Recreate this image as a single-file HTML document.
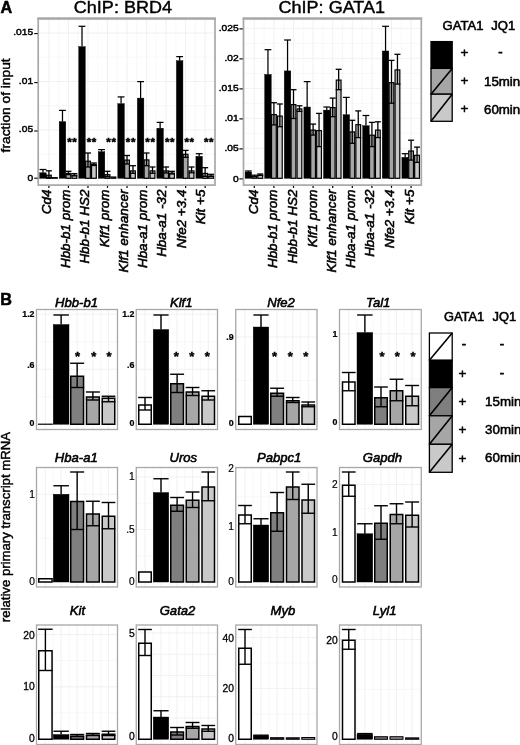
<!DOCTYPE html>
<html><head><meta charset="utf-8"><title>Figure</title>
<style>
html,body{margin:0;padding:0;background:#fff;}
body{width:520px;height:745px;overflow:hidden;font-family:'Liberation Sans', sans-serif;}
svg{display:block;font-family:"Liberation Sans",sans-serif;}
svg text{fill:#000;}
</style></head>
<body>
<svg width="520" height="745" viewBox="0 0 520 745">
<defs><filter id="soft" x="0" y="0" width="100%" height="100%" filterUnits="userSpaceOnUse" color-interpolation-filters="sRGB"><feGaussianBlur stdDeviation="0.38"/></filter></defs>
<rect x="0" y="0" width="520" height="745" fill="#ffffff"/>
<g filter="url(#soft)">
<rect x="-5" y="-5" width="530" height="755" fill="#ffffff"/>
<rect x="38.20" y="18.40" width="176.80" height="166.70" fill="#fff" stroke="none" stroke-width="1.0"/>
<line x1="58.67" y1="18.40" x2="58.67" y2="185.10" stroke="#f4f4f4" stroke-width="0.6"/>
<line x1="78.20" y1="18.40" x2="78.20" y2="185.10" stroke="#f4f4f4" stroke-width="0.6"/>
<line x1="97.73" y1="18.40" x2="97.73" y2="185.10" stroke="#f4f4f4" stroke-width="0.6"/>
<line x1="117.26" y1="18.40" x2="117.26" y2="185.10" stroke="#f4f4f4" stroke-width="0.6"/>
<line x1="136.79" y1="18.40" x2="136.79" y2="185.10" stroke="#f4f4f4" stroke-width="0.6"/>
<line x1="156.31" y1="18.40" x2="156.31" y2="185.10" stroke="#f4f4f4" stroke-width="0.6"/>
<line x1="175.85" y1="18.40" x2="175.85" y2="185.10" stroke="#f4f4f4" stroke-width="0.6"/>
<line x1="195.38" y1="18.40" x2="195.38" y2="185.10" stroke="#f4f4f4" stroke-width="0.6"/>
<line x1="38.20" y1="57.30" x2="215.00" y2="57.30" stroke="#f4f4f4" stroke-width="0.6"/>
<line x1="38.20" y1="105.70" x2="215.00" y2="105.70" stroke="#f4f4f4" stroke-width="0.6"/>
<line x1="38.20" y1="154.20" x2="215.00" y2="154.20" stroke="#f4f4f4" stroke-width="0.6"/>
<line x1="48.90" y1="18.40" x2="48.90" y2="185.10" stroke="#ededed" stroke-width="0.8"/>
<line x1="68.43" y1="18.40" x2="68.43" y2="185.10" stroke="#ededed" stroke-width="0.8"/>
<line x1="87.96" y1="18.40" x2="87.96" y2="185.10" stroke="#ededed" stroke-width="0.8"/>
<line x1="107.49" y1="18.40" x2="107.49" y2="185.10" stroke="#ededed" stroke-width="0.8"/>
<line x1="127.02" y1="18.40" x2="127.02" y2="185.10" stroke="#ededed" stroke-width="0.8"/>
<line x1="146.55" y1="18.40" x2="146.55" y2="185.10" stroke="#ededed" stroke-width="0.8"/>
<line x1="166.08" y1="18.40" x2="166.08" y2="185.10" stroke="#ededed" stroke-width="0.8"/>
<line x1="185.61" y1="18.40" x2="185.61" y2="185.10" stroke="#ededed" stroke-width="0.8"/>
<line x1="205.14" y1="18.40" x2="205.14" y2="185.10" stroke="#ededed" stroke-width="0.8"/>
<line x1="38.20" y1="33.10" x2="215.00" y2="33.10" stroke="#ededed" stroke-width="0.8"/>
<line x1="38.20" y1="81.50" x2="215.00" y2="81.50" stroke="#ededed" stroke-width="0.8"/>
<line x1="38.20" y1="130.00" x2="215.00" y2="130.00" stroke="#ededed" stroke-width="0.8"/>
<line x1="38.20" y1="178.40" x2="215.00" y2="178.40" stroke="#ededed" stroke-width="0.8"/>
<rect x="39.67" y="172.80" width="6.55" height="5.50" fill="#000" stroke="#000" stroke-width="0.4"/>
<line x1="42.95" y1="169.50" x2="42.95" y2="172.80" stroke="#000" stroke-width="1.25"/>
<line x1="39.55" y1="169.50" x2="46.35" y2="169.50" stroke="#000" stroke-width="1.25"/>
<rect x="46.52" y="175.20" width="4.75" height="3.10" fill="#a6a6a6" stroke="#000" stroke-width="1.2"/>
<line x1="48.90" y1="170.80" x2="48.90" y2="177.50" stroke="#000" stroke-width="1.3"/>
<line x1="45.90" y1="170.80" x2="51.90" y2="170.80" stroke="#000" stroke-width="1.3"/>
<line x1="45.90" y1="177.50" x2="51.90" y2="177.50" stroke="#000" stroke-width="1.3"/>
<rect x="51.87" y="177.00" width="5.95" height="1.90" fill="#111" stroke="none" stroke-width="1.0"/>
<rect x="59.21" y="121.60" width="6.55" height="56.70" fill="#000" stroke="#000" stroke-width="0.4"/>
<line x1="62.48" y1="110.40" x2="62.48" y2="121.60" stroke="#000" stroke-width="1.25"/>
<line x1="59.08" y1="110.40" x2="65.88" y2="110.40" stroke="#000" stroke-width="1.25"/>
<rect x="66.06" y="173.40" width="4.75" height="4.90" fill="#a6a6a6" stroke="#000" stroke-width="1.2"/>
<line x1="68.43" y1="171.30" x2="68.43" y2="174.60" stroke="#000" stroke-width="1.3"/>
<line x1="65.43" y1="171.30" x2="71.43" y2="171.30" stroke="#000" stroke-width="1.3"/>
<line x1="65.43" y1="174.60" x2="71.43" y2="174.60" stroke="#000" stroke-width="1.3"/>
<rect x="72.01" y="175.20" width="4.75" height="3.10" fill="#c9c9c9" stroke="#000" stroke-width="1.2"/>
<line x1="74.38" y1="173.60" x2="74.38" y2="175.90" stroke="#000" stroke-width="1.3"/>
<line x1="71.38" y1="173.60" x2="77.38" y2="173.60" stroke="#000" stroke-width="1.3"/>
<line x1="71.38" y1="175.90" x2="77.38" y2="175.90" stroke="#000" stroke-width="1.3"/>
<rect x="78.74" y="46.60" width="6.55" height="131.70" fill="#000" stroke="#000" stroke-width="0.4"/>
<line x1="82.01" y1="26.30" x2="82.01" y2="46.60" stroke="#000" stroke-width="1.25"/>
<line x1="78.61" y1="26.30" x2="85.41" y2="26.30" stroke="#000" stroke-width="1.25"/>
<rect x="85.59" y="161.20" width="4.75" height="17.10" fill="#a6a6a6" stroke="#000" stroke-width="1.2"/>
<line x1="87.96" y1="153.00" x2="87.96" y2="167.00" stroke="#000" stroke-width="1.3"/>
<line x1="84.96" y1="153.00" x2="90.96" y2="153.00" stroke="#000" stroke-width="1.3"/>
<line x1="84.96" y1="167.00" x2="90.96" y2="167.00" stroke="#000" stroke-width="1.3"/>
<rect x="91.54" y="164.50" width="4.75" height="13.80" fill="#c9c9c9" stroke="#000" stroke-width="1.2"/>
<line x1="93.91" y1="163.00" x2="93.91" y2="165.50" stroke="#000" stroke-width="1.3"/>
<line x1="90.91" y1="163.00" x2="96.91" y2="163.00" stroke="#000" stroke-width="1.3"/>
<line x1="90.91" y1="165.50" x2="96.91" y2="165.50" stroke="#000" stroke-width="1.3"/>
<rect x="98.27" y="151.70" width="6.55" height="26.60" fill="#000" stroke="#000" stroke-width="0.4"/>
<line x1="101.54" y1="149.60" x2="101.54" y2="151.70" stroke="#000" stroke-width="1.25"/>
<line x1="98.14" y1="149.60" x2="104.94" y2="149.60" stroke="#000" stroke-width="1.25"/>
<rect x="105.12" y="174.70" width="4.75" height="3.60" fill="#a6a6a6" stroke="#000" stroke-width="1.2"/>
<line x1="107.49" y1="171.30" x2="107.49" y2="176.70" stroke="#000" stroke-width="1.3"/>
<line x1="104.49" y1="171.30" x2="110.49" y2="171.30" stroke="#000" stroke-width="1.3"/>
<line x1="104.49" y1="176.70" x2="110.49" y2="176.70" stroke="#000" stroke-width="1.3"/>
<rect x="110.47" y="176.40" width="5.95" height="2.50" fill="#111" stroke="none" stroke-width="1.0"/>
<rect x="117.80" y="103.60" width="6.55" height="74.70" fill="#000" stroke="#000" stroke-width="0.4"/>
<line x1="121.07" y1="96.90" x2="121.07" y2="103.60" stroke="#000" stroke-width="1.25"/>
<line x1="117.67" y1="96.90" x2="124.47" y2="96.90" stroke="#000" stroke-width="1.25"/>
<rect x="124.65" y="160.10" width="4.75" height="18.20" fill="#a6a6a6" stroke="#000" stroke-width="1.2"/>
<line x1="127.02" y1="155.50" x2="127.02" y2="164.00" stroke="#000" stroke-width="1.3"/>
<line x1="124.02" y1="155.50" x2="130.02" y2="155.50" stroke="#000" stroke-width="1.3"/>
<line x1="124.02" y1="164.00" x2="130.02" y2="164.00" stroke="#000" stroke-width="1.3"/>
<rect x="130.59" y="170.90" width="4.75" height="7.40" fill="#c9c9c9" stroke="#000" stroke-width="1.2"/>
<line x1="132.97" y1="165.70" x2="132.97" y2="173.30" stroke="#000" stroke-width="1.3"/>
<line x1="129.97" y1="165.70" x2="135.97" y2="165.70" stroke="#000" stroke-width="1.3"/>
<line x1="129.97" y1="173.30" x2="135.97" y2="173.30" stroke="#000" stroke-width="1.3"/>
<rect x="137.32" y="98.10" width="6.55" height="80.20" fill="#000" stroke="#000" stroke-width="0.4"/>
<line x1="140.60" y1="81.60" x2="140.60" y2="98.10" stroke="#000" stroke-width="1.25"/>
<line x1="137.20" y1="81.60" x2="144.00" y2="81.60" stroke="#000" stroke-width="1.25"/>
<rect x="144.17" y="159.90" width="4.75" height="18.40" fill="#a6a6a6" stroke="#000" stroke-width="1.2"/>
<line x1="146.55" y1="153.00" x2="146.55" y2="165.70" stroke="#000" stroke-width="1.3"/>
<line x1="143.55" y1="153.00" x2="149.55" y2="153.00" stroke="#000" stroke-width="1.3"/>
<line x1="143.55" y1="165.70" x2="149.55" y2="165.70" stroke="#000" stroke-width="1.3"/>
<rect x="150.12" y="170.90" width="4.75" height="7.40" fill="#c9c9c9" stroke="#000" stroke-width="1.2"/>
<line x1="152.50" y1="167.00" x2="152.50" y2="173.30" stroke="#000" stroke-width="1.3"/>
<line x1="149.50" y1="167.00" x2="155.50" y2="167.00" stroke="#000" stroke-width="1.3"/>
<line x1="149.50" y1="173.30" x2="155.50" y2="173.30" stroke="#000" stroke-width="1.3"/>
<rect x="156.85" y="128.20" width="6.55" height="50.10" fill="#000" stroke="#000" stroke-width="0.4"/>
<line x1="160.13" y1="122.40" x2="160.13" y2="128.20" stroke="#000" stroke-width="1.25"/>
<line x1="156.73" y1="122.40" x2="163.53" y2="122.40" stroke="#000" stroke-width="1.25"/>
<rect x="163.70" y="170.90" width="4.75" height="7.40" fill="#a6a6a6" stroke="#000" stroke-width="1.2"/>
<line x1="166.08" y1="167.00" x2="166.08" y2="173.00" stroke="#000" stroke-width="1.3"/>
<line x1="163.08" y1="167.00" x2="169.08" y2="167.00" stroke="#000" stroke-width="1.3"/>
<line x1="163.08" y1="173.00" x2="169.08" y2="173.00" stroke="#000" stroke-width="1.3"/>
<rect x="169.66" y="173.10" width="4.75" height="5.20" fill="#c9c9c9" stroke="#000" stroke-width="1.2"/>
<line x1="172.03" y1="171.30" x2="172.03" y2="174.00" stroke="#000" stroke-width="1.3"/>
<line x1="169.03" y1="171.30" x2="175.03" y2="171.30" stroke="#000" stroke-width="1.3"/>
<line x1="169.03" y1="174.00" x2="175.03" y2="174.00" stroke="#000" stroke-width="1.3"/>
<rect x="176.38" y="60.70" width="6.55" height="117.60" fill="#000" stroke="#000" stroke-width="0.4"/>
<line x1="179.66" y1="56.60" x2="179.66" y2="60.70" stroke="#000" stroke-width="1.25"/>
<line x1="176.26" y1="56.60" x2="183.06" y2="56.60" stroke="#000" stroke-width="1.25"/>
<rect x="183.23" y="154.30" width="4.75" height="24.00" fill="#a6a6a6" stroke="#000" stroke-width="1.2"/>
<line x1="185.61" y1="150.40" x2="185.61" y2="157.30" stroke="#000" stroke-width="1.3"/>
<line x1="182.61" y1="150.40" x2="188.61" y2="150.40" stroke="#000" stroke-width="1.3"/>
<line x1="182.61" y1="157.30" x2="188.61" y2="157.30" stroke="#000" stroke-width="1.3"/>
<rect x="189.19" y="170.90" width="4.75" height="7.40" fill="#c9c9c9" stroke="#000" stroke-width="1.2"/>
<line x1="191.56" y1="167.00" x2="191.56" y2="172.80" stroke="#000" stroke-width="1.3"/>
<line x1="188.56" y1="167.00" x2="194.56" y2="167.00" stroke="#000" stroke-width="1.3"/>
<line x1="188.56" y1="172.80" x2="194.56" y2="172.80" stroke="#000" stroke-width="1.3"/>
<rect x="195.91" y="156.30" width="6.55" height="22.00" fill="#000" stroke="#000" stroke-width="0.4"/>
<line x1="199.19" y1="153.70" x2="199.19" y2="156.30" stroke="#000" stroke-width="1.25"/>
<line x1="195.79" y1="153.70" x2="202.59" y2="153.70" stroke="#000" stroke-width="1.25"/>
<rect x="202.76" y="173.40" width="4.75" height="4.90" fill="#a6a6a6" stroke="#000" stroke-width="1.2"/>
<line x1="205.14" y1="167.70" x2="205.14" y2="176.40" stroke="#000" stroke-width="1.3"/>
<line x1="202.14" y1="167.70" x2="208.14" y2="167.70" stroke="#000" stroke-width="1.3"/>
<line x1="202.14" y1="176.40" x2="208.14" y2="176.40" stroke="#000" stroke-width="1.3"/>
<rect x="208.67" y="175.95" width="4.85" height="2.35" fill="#c9c9c9" stroke="#000" stroke-width="1.1"/>
<line x1="211.09" y1="174.30" x2="211.09" y2="176.60" stroke="#000" stroke-width="1.3"/>
<line x1="208.09" y1="174.30" x2="214.09" y2="174.30" stroke="#000" stroke-width="1.3"/>
<line x1="208.09" y1="176.60" x2="214.09" y2="176.60" stroke="#000" stroke-width="1.3"/>
<rect x="38.20" y="18.40" width="176.80" height="166.70" fill="none" stroke="#a8a8a8" stroke-width="1.7"/>
<line x1="37.35" y1="18.60" x2="215.85" y2="18.60" stroke="#a8a8a8" stroke-width="2.2"/>
<line x1="48.90" y1="185.90" x2="48.90" y2="187.90" stroke="#000" stroke-width="1.2"/>
<line x1="68.43" y1="185.90" x2="68.43" y2="187.90" stroke="#000" stroke-width="1.2"/>
<line x1="87.96" y1="185.90" x2="87.96" y2="187.90" stroke="#000" stroke-width="1.2"/>
<line x1="107.49" y1="185.90" x2="107.49" y2="187.90" stroke="#000" stroke-width="1.2"/>
<line x1="127.02" y1="185.90" x2="127.02" y2="187.90" stroke="#000" stroke-width="1.2"/>
<line x1="146.55" y1="185.90" x2="146.55" y2="187.90" stroke="#000" stroke-width="1.2"/>
<line x1="166.08" y1="185.90" x2="166.08" y2="187.90" stroke="#000" stroke-width="1.2"/>
<line x1="185.61" y1="185.90" x2="185.61" y2="187.90" stroke="#000" stroke-width="1.2"/>
<line x1="205.14" y1="185.90" x2="205.14" y2="187.90" stroke="#000" stroke-width="1.2"/>
<text transform="translate(72.33 145.90)" font-size="11.5" text-anchor="middle" font-weight="bold" font-style="normal" stroke="#000" stroke-width="0.5" letter-spacing="0.6">**</text>
<text transform="translate(91.86 145.90)" font-size="11.5" text-anchor="middle" font-weight="bold" font-style="normal" stroke="#000" stroke-width="0.5" letter-spacing="0.6">**</text>
<text transform="translate(111.39 145.90)" font-size="11.5" text-anchor="middle" font-weight="bold" font-style="normal" stroke="#000" stroke-width="0.5" letter-spacing="0.6">**</text>
<text transform="translate(130.92 145.90)" font-size="11.5" text-anchor="middle" font-weight="bold" font-style="normal" stroke="#000" stroke-width="0.5" letter-spacing="0.6">**</text>
<text transform="translate(150.45 145.90)" font-size="11.5" text-anchor="middle" font-weight="bold" font-style="normal" stroke="#000" stroke-width="0.5" letter-spacing="0.6">**</text>
<text transform="translate(169.98 145.90)" font-size="11.5" text-anchor="middle" font-weight="bold" font-style="normal" stroke="#000" stroke-width="0.5" letter-spacing="0.6">**</text>
<text transform="translate(189.51 145.90)" font-size="11.5" text-anchor="middle" font-weight="bold" font-style="normal" stroke="#000" stroke-width="0.5" letter-spacing="0.6">**</text>
<text transform="translate(209.04 145.90)" font-size="11.5" text-anchor="middle" font-weight="bold" font-style="normal" stroke="#000" stroke-width="0.5" letter-spacing="0.6">**</text>
<rect x="243.50" y="18.40" width="177.80" height="166.70" fill="#fff" stroke="none" stroke-width="1.0"/>
<line x1="264.10" y1="18.40" x2="264.10" y2="185.10" stroke="#f4f4f4" stroke-width="0.6"/>
<line x1="283.70" y1="18.40" x2="283.70" y2="185.10" stroke="#f4f4f4" stroke-width="0.6"/>
<line x1="303.30" y1="18.40" x2="303.30" y2="185.10" stroke="#f4f4f4" stroke-width="0.6"/>
<line x1="322.90" y1="18.40" x2="322.90" y2="185.10" stroke="#f4f4f4" stroke-width="0.6"/>
<line x1="342.50" y1="18.40" x2="342.50" y2="185.10" stroke="#f4f4f4" stroke-width="0.6"/>
<line x1="362.10" y1="18.40" x2="362.10" y2="185.10" stroke="#f4f4f4" stroke-width="0.6"/>
<line x1="381.70" y1="18.40" x2="381.70" y2="185.10" stroke="#f4f4f4" stroke-width="0.6"/>
<line x1="401.30" y1="18.40" x2="401.30" y2="185.10" stroke="#f4f4f4" stroke-width="0.6"/>
<line x1="243.50" y1="43.40" x2="421.30" y2="43.40" stroke="#f4f4f4" stroke-width="0.6"/>
<line x1="243.50" y1="73.40" x2="421.30" y2="73.40" stroke="#f4f4f4" stroke-width="0.6"/>
<line x1="243.50" y1="103.40" x2="421.30" y2="103.40" stroke="#f4f4f4" stroke-width="0.6"/>
<line x1="243.50" y1="133.40" x2="421.30" y2="133.40" stroke="#f4f4f4" stroke-width="0.6"/>
<line x1="243.50" y1="163.40" x2="421.30" y2="163.40" stroke="#f4f4f4" stroke-width="0.6"/>
<line x1="254.30" y1="18.40" x2="254.30" y2="185.10" stroke="#ededed" stroke-width="0.8"/>
<line x1="273.90" y1="18.40" x2="273.90" y2="185.10" stroke="#ededed" stroke-width="0.8"/>
<line x1="293.50" y1="18.40" x2="293.50" y2="185.10" stroke="#ededed" stroke-width="0.8"/>
<line x1="313.10" y1="18.40" x2="313.10" y2="185.10" stroke="#ededed" stroke-width="0.8"/>
<line x1="332.70" y1="18.40" x2="332.70" y2="185.10" stroke="#ededed" stroke-width="0.8"/>
<line x1="352.30" y1="18.40" x2="352.30" y2="185.10" stroke="#ededed" stroke-width="0.8"/>
<line x1="371.90" y1="18.40" x2="371.90" y2="185.10" stroke="#ededed" stroke-width="0.8"/>
<line x1="391.50" y1="18.40" x2="391.50" y2="185.10" stroke="#ededed" stroke-width="0.8"/>
<line x1="411.10" y1="18.40" x2="411.10" y2="185.10" stroke="#ededed" stroke-width="0.8"/>
<line x1="243.50" y1="28.40" x2="421.30" y2="28.40" stroke="#ededed" stroke-width="0.8"/>
<line x1="243.50" y1="58.40" x2="421.30" y2="58.40" stroke="#ededed" stroke-width="0.8"/>
<line x1="243.50" y1="88.40" x2="421.30" y2="88.40" stroke="#ededed" stroke-width="0.8"/>
<line x1="243.50" y1="118.40" x2="421.30" y2="118.40" stroke="#ededed" stroke-width="0.8"/>
<line x1="243.50" y1="148.40" x2="421.30" y2="148.40" stroke="#ededed" stroke-width="0.8"/>
<line x1="243.50" y1="178.40" x2="421.30" y2="178.40" stroke="#ededed" stroke-width="0.8"/>
<rect x="245.07" y="172.00" width="6.55" height="6.30" fill="#000" stroke="#000" stroke-width="0.4"/>
<line x1="248.35" y1="171.00" x2="248.35" y2="172.00" stroke="#000" stroke-width="1.25"/>
<line x1="244.95" y1="171.00" x2="251.75" y2="171.00" stroke="#000" stroke-width="1.25"/>
<rect x="251.88" y="176.45" width="4.85" height="1.85" fill="#a6a6a6" stroke="#000" stroke-width="1.1"/>
<line x1="254.30" y1="175.20" x2="254.30" y2="176.80" stroke="#000" stroke-width="1.3"/>
<line x1="251.30" y1="175.20" x2="257.30" y2="175.20" stroke="#000" stroke-width="1.3"/>
<line x1="251.30" y1="176.80" x2="257.30" y2="176.80" stroke="#000" stroke-width="1.3"/>
<rect x="257.88" y="175.20" width="4.75" height="3.10" fill="#c9c9c9" stroke="#000" stroke-width="1.2"/>
<line x1="260.25" y1="174.00" x2="260.25" y2="175.40" stroke="#000" stroke-width="1.3"/>
<line x1="257.25" y1="174.00" x2="263.25" y2="174.00" stroke="#000" stroke-width="1.3"/>
<line x1="257.25" y1="175.40" x2="263.25" y2="175.40" stroke="#000" stroke-width="1.3"/>
<rect x="264.68" y="74.40" width="6.55" height="103.90" fill="#000" stroke="#000" stroke-width="0.4"/>
<line x1="267.95" y1="49.70" x2="267.95" y2="74.40" stroke="#000" stroke-width="1.25"/>
<line x1="264.55" y1="49.70" x2="271.35" y2="49.70" stroke="#000" stroke-width="1.25"/>
<rect x="271.53" y="114.60" width="4.75" height="63.70" fill="#a6a6a6" stroke="#000" stroke-width="1.2"/>
<line x1="273.90" y1="102.70" x2="273.90" y2="124.90" stroke="#000" stroke-width="1.3"/>
<line x1="270.90" y1="102.70" x2="276.90" y2="102.70" stroke="#000" stroke-width="1.3"/>
<line x1="270.90" y1="124.90" x2="276.90" y2="124.90" stroke="#000" stroke-width="1.3"/>
<rect x="277.48" y="116.10" width="4.75" height="62.20" fill="#c9c9c9" stroke="#000" stroke-width="1.2"/>
<line x1="279.85" y1="104.00" x2="279.85" y2="126.70" stroke="#000" stroke-width="1.3"/>
<line x1="276.85" y1="104.00" x2="282.85" y2="104.00" stroke="#000" stroke-width="1.3"/>
<line x1="276.85" y1="126.70" x2="282.85" y2="126.70" stroke="#000" stroke-width="1.3"/>
<rect x="284.27" y="70.90" width="6.55" height="107.40" fill="#000" stroke="#000" stroke-width="0.4"/>
<line x1="287.55" y1="40.00" x2="287.55" y2="70.90" stroke="#000" stroke-width="1.25"/>
<line x1="284.15" y1="40.00" x2="290.95" y2="40.00" stroke="#000" stroke-width="1.25"/>
<rect x="291.12" y="104.60" width="4.75" height="73.70" fill="#a6a6a6" stroke="#000" stroke-width="1.2"/>
<line x1="293.50" y1="89.70" x2="293.50" y2="118.50" stroke="#000" stroke-width="1.3"/>
<line x1="290.50" y1="89.70" x2="296.50" y2="89.70" stroke="#000" stroke-width="1.3"/>
<line x1="290.50" y1="118.50" x2="296.50" y2="118.50" stroke="#000" stroke-width="1.3"/>
<rect x="297.07" y="108.90" width="4.75" height="69.40" fill="#c9c9c9" stroke="#000" stroke-width="1.2"/>
<line x1="299.45" y1="105.80" x2="299.45" y2="111.40" stroke="#000" stroke-width="1.3"/>
<line x1="296.45" y1="105.80" x2="302.45" y2="105.80" stroke="#000" stroke-width="1.3"/>
<line x1="296.45" y1="111.40" x2="302.45" y2="111.40" stroke="#000" stroke-width="1.3"/>
<rect x="303.88" y="107.00" width="6.55" height="71.30" fill="#000" stroke="#000" stroke-width="0.4"/>
<line x1="307.15" y1="81.60" x2="307.15" y2="107.00" stroke="#000" stroke-width="1.25"/>
<line x1="303.75" y1="81.60" x2="310.55" y2="81.60" stroke="#000" stroke-width="1.25"/>
<rect x="310.73" y="130.10" width="4.75" height="48.20" fill="#a6a6a6" stroke="#000" stroke-width="1.2"/>
<line x1="313.10" y1="124.10" x2="313.10" y2="135.10" stroke="#000" stroke-width="1.3"/>
<line x1="310.10" y1="124.10" x2="316.10" y2="124.10" stroke="#000" stroke-width="1.3"/>
<line x1="310.10" y1="135.10" x2="316.10" y2="135.10" stroke="#000" stroke-width="1.3"/>
<rect x="316.68" y="130.60" width="4.75" height="47.70" fill="#c9c9c9" stroke="#000" stroke-width="1.2"/>
<line x1="319.05" y1="113.40" x2="319.05" y2="146.60" stroke="#000" stroke-width="1.3"/>
<line x1="316.05" y1="113.40" x2="322.05" y2="113.40" stroke="#000" stroke-width="1.3"/>
<line x1="316.05" y1="146.60" x2="322.05" y2="146.60" stroke="#000" stroke-width="1.3"/>
<rect x="323.48" y="110.10" width="6.55" height="68.20" fill="#000" stroke="#000" stroke-width="0.4"/>
<line x1="326.75" y1="107.00" x2="326.75" y2="110.10" stroke="#000" stroke-width="1.25"/>
<line x1="323.35" y1="107.00" x2="330.15" y2="107.00" stroke="#000" stroke-width="1.25"/>
<rect x="330.33" y="107.60" width="4.75" height="70.70" fill="#a6a6a6" stroke="#000" stroke-width="1.2"/>
<line x1="332.70" y1="98.10" x2="332.70" y2="116.70" stroke="#000" stroke-width="1.3"/>
<line x1="329.70" y1="98.10" x2="335.70" y2="98.10" stroke="#000" stroke-width="1.3"/>
<line x1="329.70" y1="116.70" x2="335.70" y2="116.70" stroke="#000" stroke-width="1.3"/>
<rect x="336.28" y="80.10" width="4.75" height="98.20" fill="#c9c9c9" stroke="#000" stroke-width="1.2"/>
<line x1="338.65" y1="69.30" x2="338.65" y2="89.70" stroke="#000" stroke-width="1.3"/>
<line x1="335.65" y1="69.30" x2="341.65" y2="69.30" stroke="#000" stroke-width="1.3"/>
<line x1="335.65" y1="89.70" x2="341.65" y2="89.70" stroke="#000" stroke-width="1.3"/>
<rect x="343.07" y="114.70" width="6.55" height="63.60" fill="#000" stroke="#000" stroke-width="0.4"/>
<line x1="346.35" y1="97.40" x2="346.35" y2="114.70" stroke="#000" stroke-width="1.25"/>
<line x1="342.95" y1="97.40" x2="349.75" y2="97.40" stroke="#000" stroke-width="1.25"/>
<rect x="349.93" y="131.90" width="4.75" height="46.40" fill="#a6a6a6" stroke="#000" stroke-width="1.2"/>
<line x1="352.30" y1="120.30" x2="352.30" y2="143.30" stroke="#000" stroke-width="1.3"/>
<line x1="349.30" y1="120.30" x2="355.30" y2="120.30" stroke="#000" stroke-width="1.3"/>
<line x1="349.30" y1="143.30" x2="355.30" y2="143.30" stroke="#000" stroke-width="1.3"/>
<rect x="355.88" y="124.70" width="4.75" height="53.60" fill="#c9c9c9" stroke="#000" stroke-width="1.2"/>
<line x1="358.25" y1="110.90" x2="358.25" y2="137.60" stroke="#000" stroke-width="1.3"/>
<line x1="355.25" y1="110.90" x2="361.25" y2="110.90" stroke="#000" stroke-width="1.3"/>
<line x1="355.25" y1="137.60" x2="361.25" y2="137.60" stroke="#000" stroke-width="1.3"/>
<rect x="362.68" y="125.70" width="6.55" height="52.60" fill="#000" stroke="#000" stroke-width="0.4"/>
<line x1="365.95" y1="115.50" x2="365.95" y2="125.70" stroke="#000" stroke-width="1.25"/>
<line x1="362.55" y1="115.50" x2="369.35" y2="115.50" stroke="#000" stroke-width="1.25"/>
<rect x="369.53" y="135.20" width="4.75" height="43.10" fill="#a6a6a6" stroke="#000" stroke-width="1.2"/>
<line x1="371.90" y1="122.40" x2="371.90" y2="146.60" stroke="#000" stroke-width="1.3"/>
<line x1="368.90" y1="122.40" x2="374.90" y2="122.40" stroke="#000" stroke-width="1.3"/>
<line x1="368.90" y1="146.60" x2="374.90" y2="146.60" stroke="#000" stroke-width="1.3"/>
<rect x="375.48" y="130.10" width="4.75" height="48.20" fill="#c9c9c9" stroke="#000" stroke-width="1.2"/>
<line x1="377.85" y1="121.80" x2="377.85" y2="137.60" stroke="#000" stroke-width="1.3"/>
<line x1="374.85" y1="121.80" x2="380.85" y2="121.80" stroke="#000" stroke-width="1.3"/>
<line x1="374.85" y1="137.60" x2="380.85" y2="137.60" stroke="#000" stroke-width="1.3"/>
<rect x="382.27" y="51.00" width="6.55" height="127.30" fill="#000" stroke="#000" stroke-width="0.4"/>
<line x1="385.55" y1="26.30" x2="385.55" y2="51.00" stroke="#000" stroke-width="1.25"/>
<line x1="382.15" y1="26.30" x2="388.95" y2="26.30" stroke="#000" stroke-width="1.25"/>
<rect x="389.12" y="82.70" width="4.75" height="95.60" fill="#a6a6a6" stroke="#000" stroke-width="1.2"/>
<line x1="391.50" y1="60.40" x2="391.50" y2="103.20" stroke="#000" stroke-width="1.3"/>
<line x1="388.50" y1="60.40" x2="394.50" y2="60.40" stroke="#000" stroke-width="1.3"/>
<line x1="388.50" y1="103.20" x2="394.50" y2="103.20" stroke="#000" stroke-width="1.3"/>
<rect x="395.07" y="69.90" width="4.75" height="108.40" fill="#c9c9c9" stroke="#000" stroke-width="1.2"/>
<line x1="397.45" y1="54.30" x2="397.45" y2="84.10" stroke="#000" stroke-width="1.3"/>
<line x1="394.45" y1="54.30" x2="400.45" y2="54.30" stroke="#000" stroke-width="1.3"/>
<line x1="394.45" y1="84.10" x2="400.45" y2="84.10" stroke="#000" stroke-width="1.3"/>
<rect x="401.88" y="157.30" width="6.55" height="21.00" fill="#000" stroke="#000" stroke-width="0.4"/>
<line x1="405.15" y1="153.70" x2="405.15" y2="157.30" stroke="#000" stroke-width="1.25"/>
<line x1="401.75" y1="153.70" x2="408.55" y2="153.70" stroke="#000" stroke-width="1.25"/>
<rect x="408.73" y="151.00" width="4.75" height="27.30" fill="#a6a6a6" stroke="#000" stroke-width="1.2"/>
<line x1="411.10" y1="140.20" x2="411.10" y2="160.10" stroke="#000" stroke-width="1.3"/>
<line x1="408.10" y1="140.20" x2="414.10" y2="140.20" stroke="#000" stroke-width="1.3"/>
<line x1="408.10" y1="160.10" x2="414.10" y2="160.10" stroke="#000" stroke-width="1.3"/>
<rect x="414.68" y="155.30" width="4.75" height="23.00" fill="#c9c9c9" stroke="#000" stroke-width="1.2"/>
<line x1="417.05" y1="147.10" x2="417.05" y2="162.40" stroke="#000" stroke-width="1.3"/>
<line x1="414.05" y1="147.10" x2="420.05" y2="147.10" stroke="#000" stroke-width="1.3"/>
<line x1="414.05" y1="162.40" x2="420.05" y2="162.40" stroke="#000" stroke-width="1.3"/>
<rect x="243.50" y="18.40" width="177.80" height="166.70" fill="none" stroke="#a8a8a8" stroke-width="1.7"/>
<line x1="242.65" y1="18.60" x2="422.15" y2="18.60" stroke="#a8a8a8" stroke-width="2.2"/>
<line x1="254.30" y1="185.90" x2="254.30" y2="187.90" stroke="#000" stroke-width="1.2"/>
<line x1="273.90" y1="185.90" x2="273.90" y2="187.90" stroke="#000" stroke-width="1.2"/>
<line x1="293.50" y1="185.90" x2="293.50" y2="187.90" stroke="#000" stroke-width="1.2"/>
<line x1="313.10" y1="185.90" x2="313.10" y2="187.90" stroke="#000" stroke-width="1.2"/>
<line x1="332.70" y1="185.90" x2="332.70" y2="187.90" stroke="#000" stroke-width="1.2"/>
<line x1="352.30" y1="185.90" x2="352.30" y2="187.90" stroke="#000" stroke-width="1.2"/>
<line x1="371.90" y1="185.90" x2="371.90" y2="187.90" stroke="#000" stroke-width="1.2"/>
<line x1="391.50" y1="185.90" x2="391.50" y2="187.90" stroke="#000" stroke-width="1.2"/>
<line x1="411.10" y1="185.90" x2="411.10" y2="187.90" stroke="#000" stroke-width="1.2"/>
<text transform="translate(122.90 13.20) scale(1.1 1)" font-size="16.4" text-anchor="middle" font-weight="normal" font-style="normal" stroke="#000" stroke-width="0.4">ChIP: BRD4</text>
<text transform="translate(331.80 13.20) scale(1.1 1)" font-size="16.4" text-anchor="middle" font-weight="normal" font-style="normal" stroke="#000" stroke-width="0.4">ChIP: GATA1</text>
<text transform="translate(0.40 12.80) scale(1.04 1)" font-size="15.6" text-anchor="start" font-weight="bold" font-style="normal" stroke="#000" stroke-width="0.5">A</text>
<text transform="translate(0.20 305.00) scale(1.04 1)" font-size="15.6" text-anchor="start" font-weight="bold" font-style="normal" stroke="#000" stroke-width="0.5">B</text>
<text transform="translate(33.10 34.70) scale(1.09 1)" font-size="9.4" text-anchor="end" font-weight="normal" font-style="normal" stroke="#000" stroke-width="0.45">.015</text>
<line x1="34.20" y1="33.60" x2="37.60" y2="33.60" stroke="#000" stroke-width="1.1"/>
<text transform="translate(33.10 83.70) scale(1.09 1)" font-size="9.4" text-anchor="end" font-weight="normal" font-style="normal" stroke="#000" stroke-width="0.45">.01</text>
<line x1="34.20" y1="82.60" x2="37.60" y2="82.60" stroke="#000" stroke-width="1.1"/>
<text transform="translate(33.10 132.10) scale(1.09 1)" font-size="9.4" text-anchor="end" font-weight="normal" font-style="normal" stroke="#000" stroke-width="0.45">.05</text>
<line x1="34.20" y1="131.00" x2="37.60" y2="131.00" stroke="#000" stroke-width="1.1"/>
<text transform="translate(33.10 181.20) scale(1.09 1)" font-size="9.4" text-anchor="end" font-weight="normal" font-style="normal" stroke="#000" stroke-width="0.45">0</text>
<line x1="34.20" y1="178.20" x2="37.60" y2="178.20" stroke="#000" stroke-width="1.1"/>
<text transform="translate(238.70 30.60) scale(1.09 1)" font-size="9.4" text-anchor="end" font-weight="normal" font-style="normal" stroke="#000" stroke-width="0.45">.025</text>
<line x1="239.40" y1="28.90" x2="242.80" y2="28.90" stroke="#000" stroke-width="1.1"/>
<text transform="translate(238.70 60.60) scale(1.09 1)" font-size="9.4" text-anchor="end" font-weight="normal" font-style="normal" stroke="#000" stroke-width="0.45">.02</text>
<line x1="239.40" y1="58.90" x2="242.80" y2="58.90" stroke="#000" stroke-width="1.1"/>
<text transform="translate(238.70 90.60) scale(1.09 1)" font-size="9.4" text-anchor="end" font-weight="normal" font-style="normal" stroke="#000" stroke-width="0.45">.015</text>
<line x1="239.40" y1="88.90" x2="242.80" y2="88.90" stroke="#000" stroke-width="1.1"/>
<text transform="translate(238.70 120.60) scale(1.09 1)" font-size="9.4" text-anchor="end" font-weight="normal" font-style="normal" stroke="#000" stroke-width="0.45">.01</text>
<line x1="239.40" y1="118.90" x2="242.80" y2="118.90" stroke="#000" stroke-width="1.1"/>
<text transform="translate(238.70 150.60) scale(1.09 1)" font-size="9.4" text-anchor="end" font-weight="normal" font-style="normal" stroke="#000" stroke-width="0.45">.05</text>
<line x1="239.40" y1="148.90" x2="242.80" y2="148.90" stroke="#000" stroke-width="1.1"/>
<text transform="translate(238.70 181.60) scale(1.09 1)" font-size="9.4" text-anchor="end" font-weight="normal" font-style="normal" stroke="#000" stroke-width="0.45">0</text>
<line x1="239.40" y1="178.90" x2="242.80" y2="178.90" stroke="#000" stroke-width="1.1"/>
<text transform="translate(50.80 189.60) rotate(-90) scale(1.035 1)" font-size="13" text-anchor="end" font-weight="normal" font-style="italic" stroke="#000" stroke-width="0.55">Cd4</text>
<text transform="translate(69.63 189.60) rotate(-90) scale(1.035 1)" font-size="13" text-anchor="end" font-weight="normal" font-style="italic" stroke="#000" stroke-width="0.55">Hbb-b1 prom</text>
<text transform="translate(89.16 189.60) rotate(-90) scale(1.035 1)" font-size="13" text-anchor="end" font-weight="normal" font-style="italic" stroke="#000" stroke-width="0.55">Hbb-b1 HS2</text>
<text transform="translate(108.69 189.60) rotate(-90) scale(1.035 1)" font-size="13" text-anchor="end" font-weight="normal" font-style="italic" stroke="#000" stroke-width="0.55">Klf1 prom</text>
<text transform="translate(127.62 189.60) rotate(-90) scale(1.035 1)" font-size="13" text-anchor="end" font-weight="normal" font-style="italic" stroke="#000" stroke-width="0.55">Klf1 enhancer</text>
<text transform="translate(147.25 189.60) rotate(-90) scale(1.035 1)" font-size="13" text-anchor="end" font-weight="normal" font-style="italic" stroke="#000" stroke-width="0.55">Hba-a1 prom</text>
<text transform="translate(166.28 189.60) rotate(-90) scale(1.035 1)" font-size="13" text-anchor="end" font-weight="normal" font-style="italic" stroke="#000" stroke-width="0.55">Hba-a1 -32</text>
<text transform="translate(185.81 189.60) rotate(-90) scale(1.035 1)" font-size="13" text-anchor="end" font-weight="normal" font-style="italic" stroke="#000" stroke-width="0.55">Nfe2 +3.4</text>
<text transform="translate(204.94 189.60) rotate(-90) scale(1.035 1)" font-size="13" text-anchor="end" font-weight="normal" font-style="italic" stroke="#000" stroke-width="0.55">Kit +5</text>
<text transform="translate(257.90 189.60) rotate(-90) scale(1.035 1)" font-size="13" text-anchor="end" font-weight="normal" font-style="italic" stroke="#000" stroke-width="0.55">Cd4</text>
<text transform="translate(277.10 189.60) rotate(-90) scale(1.035 1)" font-size="13" text-anchor="end" font-weight="normal" font-style="italic" stroke="#000" stroke-width="0.55">Hbb-b1 prom</text>
<text transform="translate(297.00 189.60) rotate(-90) scale(1.035 1)" font-size="13" text-anchor="end" font-weight="normal" font-style="italic" stroke="#000" stroke-width="0.55">Hbb-b1 HS2</text>
<text transform="translate(316.60 189.60) rotate(-90) scale(1.035 1)" font-size="13" text-anchor="end" font-weight="normal" font-style="italic" stroke="#000" stroke-width="0.55">Klf1 prom</text>
<text transform="translate(336.10 189.60) rotate(-90) scale(1.035 1)" font-size="13" text-anchor="end" font-weight="normal" font-style="italic" stroke="#000" stroke-width="0.55">Klf1 enhancer</text>
<text transform="translate(354.90 189.60) rotate(-90) scale(1.035 1)" font-size="13" text-anchor="end" font-weight="normal" font-style="italic" stroke="#000" stroke-width="0.55">Hba-a1 prom</text>
<text transform="translate(374.30 189.60) rotate(-90) scale(1.035 1)" font-size="13" text-anchor="end" font-weight="normal" font-style="italic" stroke="#000" stroke-width="0.55">Hba-a1 -32</text>
<text transform="translate(393.90 189.60) rotate(-90) scale(1.035 1)" font-size="13" text-anchor="end" font-weight="normal" font-style="italic" stroke="#000" stroke-width="0.55">Nfe2 +3.4</text>
<text transform="translate(413.70 189.60) rotate(-90) scale(1.035 1)" font-size="13" text-anchor="end" font-weight="normal" font-style="italic" stroke="#000" stroke-width="0.55">Kit +5</text>
<text transform="translate(10.40 105.40) rotate(-90) scale(1.058 1)" font-size="13" text-anchor="middle" font-weight="normal" font-style="normal" stroke="#000" stroke-width="0.45">fraction of input</text>
<text transform="translate(10.30 527.10) rotate(-90) scale(1.013 1)" font-size="13" text-anchor="middle" font-weight="normal" font-style="normal" stroke="#000" stroke-width="0.45">relative primary transcript mRNA</text>
<rect x="431.00" y="41.60" width="21.20" height="26.80" fill="#000" stroke="#000" stroke-width="1.3"/>
<rect x="431.00" y="68.40" width="21.20" height="25.80" fill="#a6a6a6" stroke="#000" stroke-width="1.3"/>
<line x1="431.00" y1="94.20" x2="452.20" y2="68.40" stroke="#000" stroke-width="1.6"/>
<rect x="431.00" y="94.20" width="21.20" height="27.10" fill="#c9c9c9" stroke="#000" stroke-width="1.3"/>
<line x1="431.00" y1="121.30" x2="452.20" y2="94.20" stroke="#000" stroke-width="1.6"/>
<text transform="translate(442.50 30.30) scale(1.09 1)" font-size="12" text-anchor="start" font-weight="normal" font-style="normal" stroke="#000" stroke-width="0.55">GATA1</text>
<text transform="translate(491.30 30.30) scale(1.09 1)" font-size="12" text-anchor="start" font-weight="normal" font-style="normal" stroke="#000" stroke-width="0.55">JQ1</text>
<text transform="translate(464.50 56.90)" font-size="13.5" text-anchor="middle" font-weight="normal" font-style="normal" stroke="#000" stroke-width="0.5">+</text>
<text transform="translate(464.50 85.10)" font-size="13.5" text-anchor="middle" font-weight="normal" font-style="normal" stroke="#000" stroke-width="0.5">+</text>
<text transform="translate(464.50 113.30)" font-size="13.5" text-anchor="middle" font-weight="normal" font-style="normal" stroke="#000" stroke-width="0.5">+</text>
<text transform="translate(500.30 55.90)" font-size="13" text-anchor="middle" font-weight="normal" font-style="normal" stroke="#000" stroke-width="0.7">-</text>
<text transform="translate(484.00 85.70) scale(1.11 1)" font-size="12" text-anchor="start" font-weight="normal" font-style="normal" stroke="#000" stroke-width="0.5">15min</text>
<text transform="translate(484.00 113.90) scale(1.11 1)" font-size="12" text-anchor="start" font-weight="normal" font-style="normal" stroke="#000" stroke-width="0.5">60min</text>
<rect x="429.40" y="333.00" width="22.80" height="27.30" fill="#fff" stroke="#000" stroke-width="1.3"/>
<line x1="429.40" y1="360.30" x2="452.20" y2="333.00" stroke="#000" stroke-width="1.6"/>
<rect x="429.40" y="360.30" width="22.80" height="27.30" fill="#000" stroke="#000" stroke-width="1.3"/>
<rect x="429.40" y="387.60" width="22.80" height="28.20" fill="#7f7f7f" stroke="#000" stroke-width="1.3"/>
<line x1="429.40" y1="415.80" x2="452.20" y2="387.60" stroke="#000" stroke-width="1.6"/>
<rect x="429.40" y="415.80" width="22.80" height="28.50" fill="#a6a6a6" stroke="#000" stroke-width="1.3"/>
<line x1="429.40" y1="444.30" x2="452.20" y2="415.80" stroke="#000" stroke-width="1.6"/>
<rect x="429.40" y="444.30" width="22.80" height="28.00" fill="#c9c9c9" stroke="#000" stroke-width="1.3"/>
<line x1="429.40" y1="472.30" x2="452.20" y2="444.30" stroke="#000" stroke-width="1.6"/>
<text transform="translate(444.00 321.00) scale(1.07 1)" font-size="12" text-anchor="start" font-weight="normal" font-style="normal" stroke="#000" stroke-width="0.55">GATA1</text>
<text transform="translate(492.60 321.00) scale(1.07 1)" font-size="12" text-anchor="start" font-weight="normal" font-style="normal" stroke="#000" stroke-width="0.55">JQ1</text>
<text transform="translate(463.90 348.00)" font-size="13" text-anchor="middle" font-weight="normal" font-style="normal" stroke="#000" stroke-width="0.7">-</text>
<text transform="translate(462.50 377.60)" font-size="13.5" text-anchor="middle" font-weight="normal" font-style="normal" stroke="#000" stroke-width="0.5">+</text>
<text transform="translate(462.50 405.70)" font-size="13.5" text-anchor="middle" font-weight="normal" font-style="normal" stroke="#000" stroke-width="0.5">+</text>
<text transform="translate(462.50 433.90)" font-size="13.5" text-anchor="middle" font-weight="normal" font-style="normal" stroke="#000" stroke-width="0.5">+</text>
<text transform="translate(462.50 462.60)" font-size="13.5" text-anchor="middle" font-weight="normal" font-style="normal" stroke="#000" stroke-width="0.5">+</text>
<text transform="translate(501.80 348.00)" font-size="13" text-anchor="middle" font-weight="normal" font-style="normal" stroke="#000" stroke-width="0.7">-</text>
<text transform="translate(501.80 376.70)" font-size="13" text-anchor="middle" font-weight="normal" font-style="normal" stroke="#000" stroke-width="0.7">-</text>
<text transform="translate(485.10 405.50) scale(1.11 1)" font-size="12" text-anchor="start" font-weight="normal" font-style="normal" stroke="#000" stroke-width="0.5">15min</text>
<text transform="translate(485.10 433.70) scale(1.11 1)" font-size="12" text-anchor="start" font-weight="normal" font-style="normal" stroke="#000" stroke-width="0.5">30min</text>
<text transform="translate(485.10 462.40) scale(1.11 1)" font-size="12" text-anchor="start" font-weight="normal" font-style="normal" stroke="#000" stroke-width="0.5">60min</text>
<rect x="36.50" y="309.50" width="81.00" height="120.00" fill="#fff" stroke="none" stroke-width="1.0"/>
<line x1="53.26" y1="309.50" x2="53.26" y2="429.50" stroke="#f4f4f4" stroke-width="0.6"/>
<line x1="69.14" y1="309.50" x2="69.14" y2="429.50" stroke="#f4f4f4" stroke-width="0.6"/>
<line x1="85.01" y1="309.50" x2="85.01" y2="429.50" stroke="#f4f4f4" stroke-width="0.6"/>
<line x1="100.69" y1="309.50" x2="100.69" y2="429.50" stroke="#f4f4f4" stroke-width="0.6"/>
<line x1="36.50" y1="341.70" x2="117.50" y2="341.70" stroke="#f4f4f4" stroke-width="0.6"/>
<line x1="36.50" y1="396.70" x2="117.50" y2="396.70" stroke="#f4f4f4" stroke-width="0.6"/>
<line x1="45.40" y1="309.50" x2="45.40" y2="429.50" stroke="#ededed" stroke-width="0.8"/>
<line x1="61.12" y1="309.50" x2="61.12" y2="429.50" stroke="#ededed" stroke-width="0.8"/>
<line x1="77.15" y1="309.50" x2="77.15" y2="429.50" stroke="#ededed" stroke-width="0.8"/>
<line x1="92.88" y1="309.50" x2="92.88" y2="429.50" stroke="#ededed" stroke-width="0.8"/>
<line x1="108.50" y1="309.50" x2="108.50" y2="429.50" stroke="#ededed" stroke-width="0.8"/>
<line x1="36.50" y1="314.20" x2="117.50" y2="314.20" stroke="#ededed" stroke-width="0.8"/>
<line x1="36.50" y1="369.20" x2="117.50" y2="369.20" stroke="#ededed" stroke-width="0.8"/>
<line x1="36.50" y1="424.25" x2="117.50" y2="424.25" stroke="#ededed" stroke-width="0.8"/>
<rect x="38.00" y="423.60" width="14.80" height="1.25" fill="#111" stroke="none" stroke-width="1.0"/>
<rect x="53.25" y="324.50" width="15.75" height="99.75" fill="#000" stroke="#000" stroke-width="0.4"/>
<line x1="61.12" y1="315.00" x2="61.12" y2="324.50" stroke="#000" stroke-width="1.4"/>
<line x1="53.41" y1="315.00" x2="68.84" y2="315.00" stroke="#000" stroke-width="1.4"/>
<rect x="70.75" y="376.25" width="12.80" height="48.00" fill="#7f7f7f" stroke="#000" stroke-width="1.5"/>
<line x1="77.15" y1="363.25" x2="77.15" y2="387.50" stroke="#000" stroke-width="1.4"/>
<line x1="70.14" y1="363.25" x2="84.16" y2="363.25" stroke="#000" stroke-width="1.4"/>
<line x1="70.14" y1="387.50" x2="84.16" y2="387.50" stroke="#000" stroke-width="1.4"/>
<rect x="86.50" y="397.00" width="12.75" height="27.25" fill="#a6a6a6" stroke="#000" stroke-width="1.5"/>
<line x1="92.88" y1="392.00" x2="92.88" y2="400.00" stroke="#000" stroke-width="1.4"/>
<line x1="85.89" y1="392.00" x2="99.86" y2="392.00" stroke="#000" stroke-width="1.4"/>
<line x1="85.89" y1="400.00" x2="99.86" y2="400.00" stroke="#000" stroke-width="1.4"/>
<rect x="102.25" y="398.25" width="12.50" height="26.00" fill="#c9c9c9" stroke="#000" stroke-width="1.5"/>
<line x1="108.50" y1="396.25" x2="108.50" y2="401.75" stroke="#000" stroke-width="1.4"/>
<line x1="101.64" y1="396.25" x2="115.36" y2="396.25" stroke="#000" stroke-width="1.4"/>
<line x1="101.64" y1="401.75" x2="115.36" y2="401.75" stroke="#000" stroke-width="1.4"/>
<rect x="36.50" y="309.50" width="81.00" height="120.00" fill="none" stroke="#a8a8a8" stroke-width="1.3"/>
<text transform="translate(76.50 306.90) scale(1.04 1)" font-size="12.6" text-anchor="middle" font-weight="normal" font-style="italic" stroke="#000" stroke-width="0.55">Hbb-b1</text>
<text transform="translate(34.50 317.10) scale(0.93 1)" font-size="9.5" text-anchor="end" font-weight="bold" font-style="normal" stroke="#000" stroke-width="0.25">1.2</text>
<text transform="translate(34.50 367.90) scale(0.93 1)" font-size="9.5" text-anchor="end" font-weight="bold" font-style="normal" stroke="#000" stroke-width="0.25">.6</text>
<text transform="translate(34.50 425.90) scale(0.93 1)" font-size="9.5" text-anchor="end" font-weight="bold" font-style="normal" stroke="#000" stroke-width="0.25">0</text>
<text transform="translate(77.50 361.00)" font-size="13" text-anchor="middle" font-weight="bold" font-style="normal" stroke="#000" stroke-width="0.4">*</text>
<text transform="translate(93.75 361.00)" font-size="13" text-anchor="middle" font-weight="bold" font-style="normal" stroke="#000" stroke-width="0.4">*</text>
<text transform="translate(109.00 361.00)" font-size="13" text-anchor="middle" font-weight="bold" font-style="normal" stroke="#000" stroke-width="0.4">*</text>
<rect x="136.25" y="309.50" width="81.25" height="120.00" fill="#fff" stroke="none" stroke-width="1.0"/>
<line x1="153.00" y1="309.50" x2="153.00" y2="429.50" stroke="#f4f4f4" stroke-width="0.6"/>
<line x1="169.05" y1="309.50" x2="169.05" y2="429.50" stroke="#f4f4f4" stroke-width="0.6"/>
<line x1="184.82" y1="309.50" x2="184.82" y2="429.50" stroke="#f4f4f4" stroke-width="0.6"/>
<line x1="200.40" y1="309.50" x2="200.40" y2="429.50" stroke="#f4f4f4" stroke-width="0.6"/>
<line x1="136.25" y1="341.70" x2="217.50" y2="341.70" stroke="#f4f4f4" stroke-width="0.6"/>
<line x1="136.25" y1="396.70" x2="217.50" y2="396.70" stroke="#f4f4f4" stroke-width="0.6"/>
<line x1="145.00" y1="309.50" x2="145.00" y2="429.50" stroke="#ededed" stroke-width="0.8"/>
<line x1="161.00" y1="309.50" x2="161.00" y2="429.50" stroke="#ededed" stroke-width="0.8"/>
<line x1="177.10" y1="309.50" x2="177.10" y2="429.50" stroke="#ededed" stroke-width="0.8"/>
<line x1="192.55" y1="309.50" x2="192.55" y2="429.50" stroke="#ededed" stroke-width="0.8"/>
<line x1="208.25" y1="309.50" x2="208.25" y2="429.50" stroke="#ededed" stroke-width="0.8"/>
<line x1="136.25" y1="314.20" x2="217.50" y2="314.20" stroke="#ededed" stroke-width="0.8"/>
<line x1="136.25" y1="369.20" x2="217.50" y2="369.20" stroke="#ededed" stroke-width="0.8"/>
<line x1="136.25" y1="424.25" x2="217.50" y2="424.25" stroke="#ededed" stroke-width="0.8"/>
<rect x="138.75" y="405.00" width="12.50" height="19.25" fill="#fff" stroke="#000" stroke-width="1.5"/>
<line x1="145.00" y1="397.50" x2="145.00" y2="410.00" stroke="#000" stroke-width="1.4"/>
<line x1="138.14" y1="397.50" x2="151.86" y2="397.50" stroke="#000" stroke-width="1.4"/>
<line x1="138.14" y1="410.00" x2="151.86" y2="410.00" stroke="#000" stroke-width="1.4"/>
<rect x="153.25" y="329.50" width="15.50" height="94.75" fill="#000" stroke="#000" stroke-width="0.4"/>
<line x1="161.00" y1="315.00" x2="161.00" y2="329.50" stroke="#000" stroke-width="1.4"/>
<line x1="153.41" y1="315.00" x2="168.59" y2="315.00" stroke="#000" stroke-width="1.4"/>
<rect x="170.75" y="383.75" width="12.70" height="40.50" fill="#7f7f7f" stroke="#000" stroke-width="1.5"/>
<line x1="177.10" y1="374.25" x2="177.10" y2="392.50" stroke="#000" stroke-width="1.4"/>
<line x1="170.14" y1="374.25" x2="184.06" y2="374.25" stroke="#000" stroke-width="1.4"/>
<line x1="170.14" y1="392.50" x2="184.06" y2="392.50" stroke="#000" stroke-width="1.4"/>
<rect x="186.25" y="392.00" width="12.60" height="32.25" fill="#a6a6a6" stroke="#000" stroke-width="1.5"/>
<line x1="192.55" y1="387.50" x2="192.55" y2="395.50" stroke="#000" stroke-width="1.4"/>
<line x1="185.64" y1="387.50" x2="199.46" y2="387.50" stroke="#000" stroke-width="1.4"/>
<line x1="185.64" y1="395.50" x2="199.46" y2="395.50" stroke="#000" stroke-width="1.4"/>
<rect x="202.00" y="396.25" width="12.50" height="28.00" fill="#c9c9c9" stroke="#000" stroke-width="1.5"/>
<line x1="208.25" y1="390.75" x2="208.25" y2="400.00" stroke="#000" stroke-width="1.4"/>
<line x1="201.39" y1="390.75" x2="215.11" y2="390.75" stroke="#000" stroke-width="1.4"/>
<line x1="201.39" y1="400.00" x2="215.11" y2="400.00" stroke="#000" stroke-width="1.4"/>
<rect x="136.25" y="309.50" width="81.25" height="120.00" fill="none" stroke="#a8a8a8" stroke-width="1.3"/>
<text transform="translate(181.25 306.90) scale(1.04 1)" font-size="12.6" text-anchor="middle" font-weight="normal" font-style="italic" stroke="#000" stroke-width="0.55">Klf1</text>
<text transform="translate(134.40 317.10) scale(0.93 1)" font-size="9.5" text-anchor="end" font-weight="bold" font-style="normal" stroke="#000" stroke-width="0.25">1.2</text>
<text transform="translate(134.40 367.90) scale(0.93 1)" font-size="9.5" text-anchor="end" font-weight="bold" font-style="normal" stroke="#000" stroke-width="0.25">.6</text>
<text transform="translate(134.40 425.90) scale(0.93 1)" font-size="9.5" text-anchor="end" font-weight="bold" font-style="normal" stroke="#000" stroke-width="0.25">0</text>
<text transform="translate(176.25 361.00)" font-size="13" text-anchor="middle" font-weight="bold" font-style="normal" stroke="#000" stroke-width="0.4">*</text>
<text transform="translate(191.75 361.00)" font-size="13" text-anchor="middle" font-weight="bold" font-style="normal" stroke="#000" stroke-width="0.4">*</text>
<text transform="translate(207.25 361.00)" font-size="13" text-anchor="middle" font-weight="bold" font-style="normal" stroke="#000" stroke-width="0.4">*</text>
<rect x="235.75" y="309.50" width="81.25" height="120.00" fill="#fff" stroke="none" stroke-width="1.0"/>
<line x1="253.00" y1="309.50" x2="253.00" y2="429.50" stroke="#f4f4f4" stroke-width="0.6"/>
<line x1="269.06" y1="309.50" x2="269.06" y2="429.50" stroke="#f4f4f4" stroke-width="0.6"/>
<line x1="284.94" y1="309.50" x2="284.94" y2="429.50" stroke="#f4f4f4" stroke-width="0.6"/>
<line x1="300.50" y1="309.50" x2="300.50" y2="429.50" stroke="#f4f4f4" stroke-width="0.6"/>
<line x1="235.75" y1="380.60" x2="317.00" y2="380.60" stroke="#f4f4f4" stroke-width="0.6"/>
<line x1="245.00" y1="309.50" x2="245.00" y2="429.50" stroke="#ededed" stroke-width="0.8"/>
<line x1="261.00" y1="309.50" x2="261.00" y2="429.50" stroke="#ededed" stroke-width="0.8"/>
<line x1="277.12" y1="309.50" x2="277.12" y2="429.50" stroke="#ededed" stroke-width="0.8"/>
<line x1="292.75" y1="309.50" x2="292.75" y2="429.50" stroke="#ededed" stroke-width="0.8"/>
<line x1="308.25" y1="309.50" x2="308.25" y2="429.50" stroke="#ededed" stroke-width="0.8"/>
<line x1="235.75" y1="337.00" x2="317.00" y2="337.00" stroke="#ededed" stroke-width="0.8"/>
<line x1="235.75" y1="424.25" x2="317.00" y2="424.25" stroke="#ededed" stroke-width="0.8"/>
<rect x="238.75" y="416.50" width="12.50" height="7.75" fill="#fff" stroke="#000" stroke-width="1.5"/>
<rect x="253.25" y="327.00" width="15.50" height="97.25" fill="#000" stroke="#000" stroke-width="0.4"/>
<line x1="261.00" y1="315.00" x2="261.00" y2="327.00" stroke="#000" stroke-width="1.4"/>
<line x1="253.41" y1="315.00" x2="268.60" y2="315.00" stroke="#000" stroke-width="1.4"/>
<rect x="270.75" y="393.25" width="12.75" height="31.00" fill="#7f7f7f" stroke="#000" stroke-width="1.5"/>
<line x1="277.12" y1="388.25" x2="277.12" y2="396.25" stroke="#000" stroke-width="1.4"/>
<line x1="270.14" y1="388.25" x2="284.11" y2="388.25" stroke="#000" stroke-width="1.4"/>
<line x1="270.14" y1="396.25" x2="284.11" y2="396.25" stroke="#000" stroke-width="1.4"/>
<rect x="286.50" y="400.75" width="12.50" height="23.50" fill="#a6a6a6" stroke="#000" stroke-width="1.5"/>
<line x1="292.75" y1="397.50" x2="292.75" y2="402.50" stroke="#000" stroke-width="1.4"/>
<line x1="285.89" y1="397.50" x2="299.61" y2="397.50" stroke="#000" stroke-width="1.4"/>
<line x1="285.89" y1="402.50" x2="299.61" y2="402.50" stroke="#000" stroke-width="1.4"/>
<rect x="302.00" y="405.00" width="12.50" height="19.25" fill="#c9c9c9" stroke="#000" stroke-width="1.5"/>
<line x1="308.25" y1="402.00" x2="308.25" y2="406.75" stroke="#000" stroke-width="1.4"/>
<line x1="301.39" y1="402.00" x2="315.11" y2="402.00" stroke="#000" stroke-width="1.4"/>
<line x1="301.39" y1="406.75" x2="315.11" y2="406.75" stroke="#000" stroke-width="1.4"/>
<rect x="235.75" y="309.50" width="81.25" height="120.00" fill="none" stroke="#a8a8a8" stroke-width="1.3"/>
<text transform="translate(281.00 306.90) scale(1.04 1)" font-size="12.6" text-anchor="middle" font-weight="normal" font-style="italic" stroke="#000" stroke-width="0.55">Nfe2</text>
<text transform="translate(233.60 339.90) scale(0.93 1)" font-size="9.5" text-anchor="end" font-weight="bold" font-style="normal" stroke="#000" stroke-width="0.25">.9</text>
<text transform="translate(233.60 425.90) scale(0.93 1)" font-size="9.5" text-anchor="end" font-weight="bold" font-style="normal" stroke="#000" stroke-width="0.25">0</text>
<text transform="translate(274.50 361.00)" font-size="13" text-anchor="middle" font-weight="bold" font-style="normal" stroke="#000" stroke-width="0.4">*</text>
<text transform="translate(290.25 361.00)" font-size="13" text-anchor="middle" font-weight="bold" font-style="normal" stroke="#000" stroke-width="0.4">*</text>
<text transform="translate(305.75 361.00)" font-size="13" text-anchor="middle" font-weight="bold" font-style="normal" stroke="#000" stroke-width="0.4">*</text>
<rect x="339.50" y="309.50" width="81.75" height="120.00" fill="#fff" stroke="none" stroke-width="1.0"/>
<line x1="356.81" y1="309.50" x2="356.81" y2="429.50" stroke="#f4f4f4" stroke-width="0.6"/>
<line x1="372.94" y1="309.50" x2="372.94" y2="429.50" stroke="#f4f4f4" stroke-width="0.6"/>
<line x1="388.75" y1="309.50" x2="388.75" y2="429.50" stroke="#f4f4f4" stroke-width="0.6"/>
<line x1="404.31" y1="309.50" x2="404.31" y2="429.50" stroke="#f4f4f4" stroke-width="0.6"/>
<line x1="339.50" y1="379.00" x2="421.25" y2="379.00" stroke="#f4f4f4" stroke-width="0.6"/>
<line x1="348.75" y1="309.50" x2="348.75" y2="429.50" stroke="#ededed" stroke-width="0.8"/>
<line x1="364.88" y1="309.50" x2="364.88" y2="429.50" stroke="#ededed" stroke-width="0.8"/>
<line x1="381.00" y1="309.50" x2="381.00" y2="429.50" stroke="#ededed" stroke-width="0.8"/>
<line x1="396.50" y1="309.50" x2="396.50" y2="429.50" stroke="#ededed" stroke-width="0.8"/>
<line x1="412.12" y1="309.50" x2="412.12" y2="429.50" stroke="#ededed" stroke-width="0.8"/>
<line x1="339.50" y1="333.75" x2="421.25" y2="333.75" stroke="#ededed" stroke-width="0.8"/>
<line x1="339.50" y1="424.25" x2="421.25" y2="424.25" stroke="#ededed" stroke-width="0.8"/>
<rect x="342.50" y="382.00" width="12.50" height="42.25" fill="#fff" stroke="#000" stroke-width="1.5"/>
<line x1="348.75" y1="372.50" x2="348.75" y2="390.75" stroke="#000" stroke-width="1.4"/>
<line x1="341.89" y1="372.50" x2="355.61" y2="372.50" stroke="#000" stroke-width="1.4"/>
<line x1="341.89" y1="390.75" x2="355.61" y2="390.75" stroke="#000" stroke-width="1.4"/>
<rect x="357.00" y="332.50" width="15.75" height="91.75" fill="#000" stroke="#000" stroke-width="0.4"/>
<line x1="364.88" y1="315.00" x2="364.88" y2="332.50" stroke="#000" stroke-width="1.4"/>
<line x1="357.16" y1="315.00" x2="372.59" y2="315.00" stroke="#000" stroke-width="1.4"/>
<rect x="374.75" y="397.75" width="12.50" height="26.50" fill="#7f7f7f" stroke="#000" stroke-width="1.5"/>
<line x1="381.00" y1="387.00" x2="381.00" y2="406.75" stroke="#000" stroke-width="1.4"/>
<line x1="374.14" y1="387.00" x2="387.86" y2="387.00" stroke="#000" stroke-width="1.4"/>
<line x1="374.14" y1="406.75" x2="387.86" y2="406.75" stroke="#000" stroke-width="1.4"/>
<rect x="390.25" y="390.75" width="12.50" height="33.50" fill="#a6a6a6" stroke="#000" stroke-width="1.5"/>
<line x1="396.50" y1="379.25" x2="396.50" y2="400.75" stroke="#000" stroke-width="1.4"/>
<line x1="389.64" y1="379.25" x2="403.36" y2="379.25" stroke="#000" stroke-width="1.4"/>
<line x1="389.64" y1="400.75" x2="403.36" y2="400.75" stroke="#000" stroke-width="1.4"/>
<rect x="405.75" y="396.25" width="12.75" height="28.00" fill="#c9c9c9" stroke="#000" stroke-width="1.5"/>
<line x1="412.12" y1="385.50" x2="412.12" y2="405.75" stroke="#000" stroke-width="1.4"/>
<line x1="405.14" y1="385.50" x2="419.11" y2="385.50" stroke="#000" stroke-width="1.4"/>
<line x1="405.14" y1="405.75" x2="419.11" y2="405.75" stroke="#000" stroke-width="1.4"/>
<rect x="339.50" y="309.50" width="81.75" height="120.00" fill="none" stroke="#a8a8a8" stroke-width="1.3"/>
<text transform="translate(378.25 306.90) scale(1.04 1)" font-size="12.6" text-anchor="middle" font-weight="normal" font-style="italic" stroke="#000" stroke-width="0.55">Tal1</text>
<text transform="translate(337.40 336.65) scale(0.93 1)" font-size="9.5" text-anchor="end" font-weight="bold" font-style="normal" stroke="#000" stroke-width="0.25">1</text>
<text transform="translate(337.40 425.40) scale(0.93 1)" font-size="9.5" text-anchor="end" font-weight="bold" font-style="normal" stroke="#000" stroke-width="0.25">0</text>
<text transform="translate(382.00 361.00)" font-size="13" text-anchor="middle" font-weight="bold" font-style="normal" stroke="#000" stroke-width="0.4">*</text>
<text transform="translate(397.25 361.00)" font-size="13" text-anchor="middle" font-weight="bold" font-style="normal" stroke="#000" stroke-width="0.4">*</text>
<text transform="translate(413.00 361.00)" font-size="13" text-anchor="middle" font-weight="bold" font-style="normal" stroke="#000" stroke-width="0.4">*</text>
<rect x="36.50" y="467.50" width="81.00" height="119.50" fill="#fff" stroke="none" stroke-width="1.0"/>
<line x1="53.26" y1="467.50" x2="53.26" y2="587.00" stroke="#f4f4f4" stroke-width="0.6"/>
<line x1="69.14" y1="467.50" x2="69.14" y2="587.00" stroke="#f4f4f4" stroke-width="0.6"/>
<line x1="85.01" y1="467.50" x2="85.01" y2="587.00" stroke="#f4f4f4" stroke-width="0.6"/>
<line x1="100.69" y1="467.50" x2="100.69" y2="587.00" stroke="#f4f4f4" stroke-width="0.6"/>
<line x1="36.50" y1="538.10" x2="117.50" y2="538.10" stroke="#f4f4f4" stroke-width="0.6"/>
<line x1="45.40" y1="467.50" x2="45.40" y2="587.00" stroke="#ededed" stroke-width="0.8"/>
<line x1="61.12" y1="467.50" x2="61.12" y2="587.00" stroke="#ededed" stroke-width="0.8"/>
<line x1="77.15" y1="467.50" x2="77.15" y2="587.00" stroke="#ededed" stroke-width="0.8"/>
<line x1="92.88" y1="467.50" x2="92.88" y2="587.00" stroke="#ededed" stroke-width="0.8"/>
<line x1="108.50" y1="467.50" x2="108.50" y2="587.00" stroke="#ededed" stroke-width="0.8"/>
<line x1="36.50" y1="494.25" x2="117.50" y2="494.25" stroke="#ededed" stroke-width="0.8"/>
<line x1="36.50" y1="582.00" x2="117.50" y2="582.00" stroke="#ededed" stroke-width="0.8"/>
<rect x="38.75" y="578.75" width="13.30" height="3.25" fill="#fff" stroke="#000" stroke-width="1.5"/>
<rect x="53.25" y="494.25" width="15.75" height="87.75" fill="#000" stroke="#000" stroke-width="0.4"/>
<line x1="61.12" y1="485.75" x2="61.12" y2="494.25" stroke="#000" stroke-width="1.4"/>
<line x1="53.41" y1="485.75" x2="68.84" y2="485.75" stroke="#000" stroke-width="1.4"/>
<rect x="70.75" y="501.50" width="12.80" height="80.50" fill="#7f7f7f" stroke="#000" stroke-width="1.5"/>
<line x1="77.15" y1="472.00" x2="77.15" y2="529.50" stroke="#000" stroke-width="1.4"/>
<line x1="70.14" y1="472.00" x2="84.16" y2="472.00" stroke="#000" stroke-width="1.4"/>
<line x1="70.14" y1="529.50" x2="84.16" y2="529.50" stroke="#000" stroke-width="1.4"/>
<rect x="86.50" y="514.00" width="12.75" height="68.00" fill="#a6a6a6" stroke="#000" stroke-width="1.5"/>
<line x1="92.88" y1="501.25" x2="92.88" y2="525.75" stroke="#000" stroke-width="1.4"/>
<line x1="85.89" y1="501.25" x2="99.86" y2="501.25" stroke="#000" stroke-width="1.4"/>
<line x1="85.89" y1="525.75" x2="99.86" y2="525.75" stroke="#000" stroke-width="1.4"/>
<rect x="102.25" y="516.25" width="12.50" height="65.75" fill="#c9c9c9" stroke="#000" stroke-width="1.5"/>
<line x1="108.50" y1="502.50" x2="108.50" y2="528.75" stroke="#000" stroke-width="1.4"/>
<line x1="101.64" y1="502.50" x2="115.36" y2="502.50" stroke="#000" stroke-width="1.4"/>
<line x1="101.64" y1="528.75" x2="115.36" y2="528.75" stroke="#000" stroke-width="1.4"/>
<rect x="36.50" y="467.50" width="81.00" height="119.50" fill="none" stroke="#a8a8a8" stroke-width="1.3"/>
<text transform="translate(76.25 462.20) scale(1.04 1)" font-size="12.6" text-anchor="middle" font-weight="normal" font-style="italic" stroke="#000" stroke-width="0.55">Hba-a1</text>
<text transform="translate(34.80 497.70)" font-size="10.2" text-anchor="end" font-weight="normal" font-style="normal" stroke="#000" stroke-width="0.2">1</text>
<text transform="translate(34.80 584.70)" font-size="10.2" text-anchor="end" font-weight="normal" font-style="normal" stroke="#000" stroke-width="0.2">0</text>
<rect x="136.25" y="467.50" width="81.25" height="119.50" fill="#fff" stroke="none" stroke-width="1.0"/>
<line x1="153.00" y1="467.50" x2="153.00" y2="587.00" stroke="#f4f4f4" stroke-width="0.6"/>
<line x1="169.05" y1="467.50" x2="169.05" y2="587.00" stroke="#f4f4f4" stroke-width="0.6"/>
<line x1="184.82" y1="467.50" x2="184.82" y2="587.00" stroke="#f4f4f4" stroke-width="0.6"/>
<line x1="200.40" y1="467.50" x2="200.40" y2="587.00" stroke="#f4f4f4" stroke-width="0.6"/>
<line x1="136.25" y1="503.20" x2="217.50" y2="503.20" stroke="#f4f4f4" stroke-width="0.6"/>
<line x1="136.25" y1="555.70" x2="217.50" y2="555.70" stroke="#f4f4f4" stroke-width="0.6"/>
<line x1="145.00" y1="467.50" x2="145.00" y2="587.00" stroke="#ededed" stroke-width="0.8"/>
<line x1="161.00" y1="467.50" x2="161.00" y2="587.00" stroke="#ededed" stroke-width="0.8"/>
<line x1="177.10" y1="467.50" x2="177.10" y2="587.00" stroke="#ededed" stroke-width="0.8"/>
<line x1="192.55" y1="467.50" x2="192.55" y2="587.00" stroke="#ededed" stroke-width="0.8"/>
<line x1="208.25" y1="467.50" x2="208.25" y2="587.00" stroke="#ededed" stroke-width="0.8"/>
<line x1="136.25" y1="477.00" x2="217.50" y2="477.00" stroke="#ededed" stroke-width="0.8"/>
<line x1="136.25" y1="529.50" x2="217.50" y2="529.50" stroke="#ededed" stroke-width="0.8"/>
<line x1="136.25" y1="582.00" x2="217.50" y2="582.00" stroke="#ededed" stroke-width="0.8"/>
<rect x="138.75" y="572.00" width="12.50" height="10.00" fill="#fff" stroke="#000" stroke-width="1.5"/>
<rect x="153.25" y="492.50" width="15.50" height="89.50" fill="#000" stroke="#000" stroke-width="0.4"/>
<line x1="161.00" y1="478.75" x2="161.00" y2="492.50" stroke="#000" stroke-width="1.4"/>
<line x1="153.41" y1="478.75" x2="168.59" y2="478.75" stroke="#000" stroke-width="1.4"/>
<rect x="170.75" y="505.25" width="12.70" height="76.75" fill="#7f7f7f" stroke="#000" stroke-width="1.5"/>
<line x1="177.10" y1="497.50" x2="177.10" y2="511.25" stroke="#000" stroke-width="1.4"/>
<line x1="170.14" y1="497.50" x2="184.06" y2="497.50" stroke="#000" stroke-width="1.4"/>
<line x1="170.14" y1="511.25" x2="184.06" y2="511.25" stroke="#000" stroke-width="1.4"/>
<rect x="186.25" y="500.25" width="12.60" height="81.75" fill="#a6a6a6" stroke="#000" stroke-width="1.5"/>
<line x1="192.55" y1="492.00" x2="192.55" y2="507.50" stroke="#000" stroke-width="1.4"/>
<line x1="185.64" y1="492.00" x2="199.46" y2="492.00" stroke="#000" stroke-width="1.4"/>
<line x1="185.64" y1="507.50" x2="199.46" y2="507.50" stroke="#000" stroke-width="1.4"/>
<rect x="202.00" y="487.00" width="12.50" height="95.00" fill="#c9c9c9" stroke="#000" stroke-width="1.5"/>
<line x1="208.25" y1="472.00" x2="208.25" y2="500.75" stroke="#000" stroke-width="1.4"/>
<line x1="201.39" y1="472.00" x2="215.11" y2="472.00" stroke="#000" stroke-width="1.4"/>
<line x1="201.39" y1="500.75" x2="215.11" y2="500.75" stroke="#000" stroke-width="1.4"/>
<rect x="136.25" y="467.50" width="81.25" height="119.50" fill="none" stroke="#a8a8a8" stroke-width="1.3"/>
<text transform="translate(183.25 462.20) scale(1.04 1)" font-size="12.6" text-anchor="middle" font-weight="normal" font-style="italic" stroke="#000" stroke-width="0.55">Uros</text>
<text transform="translate(134.70 480.45)" font-size="10.2" text-anchor="end" font-weight="normal" font-style="normal" stroke="#000" stroke-width="0.2">1</text>
<text transform="translate(134.70 533.45)" font-size="10.2" text-anchor="end" font-weight="normal" font-style="normal" stroke="#000" stroke-width="0.2">.5</text>
<text transform="translate(134.70 584.70)" font-size="10.2" text-anchor="end" font-weight="normal" font-style="normal" stroke="#000" stroke-width="0.2">0</text>
<rect x="235.75" y="467.50" width="81.25" height="119.50" fill="#fff" stroke="none" stroke-width="1.0"/>
<line x1="253.00" y1="467.50" x2="253.00" y2="587.00" stroke="#f4f4f4" stroke-width="0.6"/>
<line x1="269.06" y1="467.50" x2="269.06" y2="587.00" stroke="#f4f4f4" stroke-width="0.6"/>
<line x1="284.94" y1="467.50" x2="284.94" y2="587.00" stroke="#f4f4f4" stroke-width="0.6"/>
<line x1="300.50" y1="467.50" x2="300.50" y2="587.00" stroke="#f4f4f4" stroke-width="0.6"/>
<line x1="235.75" y1="496.80" x2="317.00" y2="496.80" stroke="#f4f4f4" stroke-width="0.6"/>
<line x1="235.75" y1="553.60" x2="317.00" y2="553.60" stroke="#f4f4f4" stroke-width="0.6"/>
<line x1="245.00" y1="467.50" x2="245.00" y2="587.00" stroke="#ededed" stroke-width="0.8"/>
<line x1="261.00" y1="467.50" x2="261.00" y2="587.00" stroke="#ededed" stroke-width="0.8"/>
<line x1="277.12" y1="467.50" x2="277.12" y2="587.00" stroke="#ededed" stroke-width="0.8"/>
<line x1="292.75" y1="467.50" x2="292.75" y2="587.00" stroke="#ededed" stroke-width="0.8"/>
<line x1="308.25" y1="467.50" x2="308.25" y2="587.00" stroke="#ededed" stroke-width="0.8"/>
<line x1="235.75" y1="468.50" x2="317.00" y2="468.50" stroke="#ededed" stroke-width="0.8"/>
<line x1="235.75" y1="525.20" x2="317.00" y2="525.20" stroke="#ededed" stroke-width="0.8"/>
<line x1="235.75" y1="582.00" x2="317.00" y2="582.00" stroke="#ededed" stroke-width="0.8"/>
<rect x="238.75" y="515.00" width="12.50" height="67.00" fill="#fff" stroke="#000" stroke-width="1.5"/>
<line x1="245.00" y1="505.50" x2="245.00" y2="523.75" stroke="#000" stroke-width="1.4"/>
<line x1="238.14" y1="505.50" x2="251.86" y2="505.50" stroke="#000" stroke-width="1.4"/>
<line x1="238.14" y1="523.75" x2="251.86" y2="523.75" stroke="#000" stroke-width="1.4"/>
<rect x="253.25" y="525.00" width="15.50" height="57.00" fill="#000" stroke="#000" stroke-width="0.4"/>
<line x1="261.00" y1="518.75" x2="261.00" y2="525.00" stroke="#000" stroke-width="1.4"/>
<line x1="253.41" y1="518.75" x2="268.60" y2="518.75" stroke="#000" stroke-width="1.4"/>
<rect x="270.75" y="512.75" width="12.75" height="69.25" fill="#7f7f7f" stroke="#000" stroke-width="1.5"/>
<line x1="277.12" y1="492.50" x2="277.12" y2="531.25" stroke="#000" stroke-width="1.4"/>
<line x1="270.14" y1="492.50" x2="284.11" y2="492.50" stroke="#000" stroke-width="1.4"/>
<line x1="270.14" y1="531.25" x2="284.11" y2="531.25" stroke="#000" stroke-width="1.4"/>
<rect x="286.50" y="487.00" width="12.50" height="95.00" fill="#a6a6a6" stroke="#000" stroke-width="1.5"/>
<line x1="292.75" y1="472.00" x2="292.75" y2="499.50" stroke="#000" stroke-width="1.4"/>
<line x1="285.89" y1="472.00" x2="299.61" y2="472.00" stroke="#000" stroke-width="1.4"/>
<line x1="285.89" y1="499.50" x2="299.61" y2="499.50" stroke="#000" stroke-width="1.4"/>
<rect x="302.00" y="500.00" width="12.50" height="82.00" fill="#c9c9c9" stroke="#000" stroke-width="1.5"/>
<line x1="308.25" y1="484.25" x2="308.25" y2="513.25" stroke="#000" stroke-width="1.4"/>
<line x1="301.39" y1="484.25" x2="315.11" y2="484.25" stroke="#000" stroke-width="1.4"/>
<line x1="301.39" y1="513.25" x2="315.11" y2="513.25" stroke="#000" stroke-width="1.4"/>
<rect x="235.75" y="467.50" width="81.25" height="119.50" fill="none" stroke="#a8a8a8" stroke-width="1.3"/>
<text transform="translate(279.10 462.20) scale(1.04 1)" font-size="12.6" text-anchor="middle" font-weight="normal" font-style="italic" stroke="#000" stroke-width="0.55">Pabpc1</text>
<text transform="translate(233.90 471.70)" font-size="10.2" text-anchor="end" font-weight="normal" font-style="normal" stroke="#000" stroke-width="0.2">2</text>
<text transform="translate(233.90 529.70)" font-size="10.2" text-anchor="end" font-weight="normal" font-style="normal" stroke="#000" stroke-width="0.2">1</text>
<text transform="translate(233.90 584.70)" font-size="10.2" text-anchor="end" font-weight="normal" font-style="normal" stroke="#000" stroke-width="0.2">0</text>
<rect x="339.50" y="467.50" width="81.75" height="119.50" fill="#fff" stroke="none" stroke-width="1.0"/>
<line x1="356.81" y1="467.50" x2="356.81" y2="587.00" stroke="#f4f4f4" stroke-width="0.6"/>
<line x1="372.94" y1="467.50" x2="372.94" y2="587.00" stroke="#f4f4f4" stroke-width="0.6"/>
<line x1="388.75" y1="467.50" x2="388.75" y2="587.00" stroke="#f4f4f4" stroke-width="0.6"/>
<line x1="404.31" y1="467.50" x2="404.31" y2="587.00" stroke="#f4f4f4" stroke-width="0.6"/>
<line x1="339.50" y1="508.80" x2="421.25" y2="508.80" stroke="#f4f4f4" stroke-width="0.6"/>
<line x1="339.50" y1="557.60" x2="421.25" y2="557.60" stroke="#f4f4f4" stroke-width="0.6"/>
<line x1="348.75" y1="467.50" x2="348.75" y2="587.00" stroke="#ededed" stroke-width="0.8"/>
<line x1="364.88" y1="467.50" x2="364.88" y2="587.00" stroke="#ededed" stroke-width="0.8"/>
<line x1="381.00" y1="467.50" x2="381.00" y2="587.00" stroke="#ededed" stroke-width="0.8"/>
<line x1="396.50" y1="467.50" x2="396.50" y2="587.00" stroke="#ededed" stroke-width="0.8"/>
<line x1="412.12" y1="467.50" x2="412.12" y2="587.00" stroke="#ededed" stroke-width="0.8"/>
<line x1="339.50" y1="484.50" x2="421.25" y2="484.50" stroke="#ededed" stroke-width="0.8"/>
<line x1="339.50" y1="533.20" x2="421.25" y2="533.20" stroke="#ededed" stroke-width="0.8"/>
<line x1="339.50" y1="582.00" x2="421.25" y2="582.00" stroke="#ededed" stroke-width="0.8"/>
<rect x="342.50" y="485.25" width="12.50" height="96.75" fill="#fff" stroke="#000" stroke-width="1.5"/>
<line x1="348.75" y1="472.00" x2="348.75" y2="496.25" stroke="#000" stroke-width="1.4"/>
<line x1="341.89" y1="472.00" x2="355.61" y2="472.00" stroke="#000" stroke-width="1.4"/>
<line x1="341.89" y1="496.25" x2="355.61" y2="496.25" stroke="#000" stroke-width="1.4"/>
<rect x="357.00" y="533.75" width="15.75" height="48.25" fill="#000" stroke="#000" stroke-width="0.4"/>
<line x1="364.88" y1="523.75" x2="364.88" y2="533.75" stroke="#000" stroke-width="1.4"/>
<line x1="357.16" y1="523.75" x2="372.59" y2="523.75" stroke="#000" stroke-width="1.4"/>
<rect x="374.75" y="523.25" width="12.50" height="58.75" fill="#7f7f7f" stroke="#000" stroke-width="1.5"/>
<line x1="381.00" y1="505.75" x2="381.00" y2="539.25" stroke="#000" stroke-width="1.4"/>
<line x1="374.14" y1="505.75" x2="387.86" y2="505.75" stroke="#000" stroke-width="1.4"/>
<line x1="374.14" y1="539.25" x2="387.86" y2="539.25" stroke="#000" stroke-width="1.4"/>
<rect x="390.25" y="514.50" width="12.50" height="67.50" fill="#a6a6a6" stroke="#000" stroke-width="1.5"/>
<line x1="396.50" y1="503.75" x2="396.50" y2="523.75" stroke="#000" stroke-width="1.4"/>
<line x1="389.64" y1="503.75" x2="403.36" y2="503.75" stroke="#000" stroke-width="1.4"/>
<line x1="389.64" y1="523.75" x2="403.36" y2="523.75" stroke="#000" stroke-width="1.4"/>
<rect x="405.75" y="515.25" width="12.75" height="66.75" fill="#c9c9c9" stroke="#000" stroke-width="1.5"/>
<line x1="412.12" y1="502.00" x2="412.12" y2="527.00" stroke="#000" stroke-width="1.4"/>
<line x1="405.14" y1="502.00" x2="419.11" y2="502.00" stroke="#000" stroke-width="1.4"/>
<line x1="405.14" y1="527.00" x2="419.11" y2="527.00" stroke="#000" stroke-width="1.4"/>
<rect x="339.50" y="467.50" width="81.75" height="119.50" fill="none" stroke="#a8a8a8" stroke-width="1.3"/>
<text transform="translate(382.50 462.20) scale(1.04 1)" font-size="12.6" text-anchor="middle" font-weight="normal" font-style="italic" stroke="#000" stroke-width="0.55">Gapdh</text>
<text transform="translate(337.70 487.95)" font-size="10.2" text-anchor="end" font-weight="normal" font-style="normal" stroke="#000" stroke-width="0.2">2</text>
<text transform="translate(337.70 535.95)" font-size="10.2" text-anchor="end" font-weight="normal" font-style="normal" stroke="#000" stroke-width="0.2">1</text>
<text transform="translate(337.70 582.70)" font-size="10.2" text-anchor="end" font-weight="normal" font-style="normal" stroke="#000" stroke-width="0.2">0</text>
<rect x="36.50" y="625.00" width="81.00" height="119.50" fill="#fff" stroke="none" stroke-width="1.0"/>
<line x1="53.26" y1="625.00" x2="53.26" y2="744.50" stroke="#f4f4f4" stroke-width="0.6"/>
<line x1="69.14" y1="625.00" x2="69.14" y2="744.50" stroke="#f4f4f4" stroke-width="0.6"/>
<line x1="85.01" y1="625.00" x2="85.01" y2="744.50" stroke="#f4f4f4" stroke-width="0.6"/>
<line x1="100.69" y1="625.00" x2="100.69" y2="744.50" stroke="#f4f4f4" stroke-width="0.6"/>
<line x1="36.50" y1="660.60" x2="117.50" y2="660.60" stroke="#f4f4f4" stroke-width="0.6"/>
<line x1="36.50" y1="713.00" x2="117.50" y2="713.00" stroke="#f4f4f4" stroke-width="0.6"/>
<line x1="45.40" y1="625.00" x2="45.40" y2="744.50" stroke="#ededed" stroke-width="0.8"/>
<line x1="61.12" y1="625.00" x2="61.12" y2="744.50" stroke="#ededed" stroke-width="0.8"/>
<line x1="77.15" y1="625.00" x2="77.15" y2="744.50" stroke="#ededed" stroke-width="0.8"/>
<line x1="92.88" y1="625.00" x2="92.88" y2="744.50" stroke="#ededed" stroke-width="0.8"/>
<line x1="108.50" y1="625.00" x2="108.50" y2="744.50" stroke="#ededed" stroke-width="0.8"/>
<line x1="36.50" y1="634.50" x2="117.50" y2="634.50" stroke="#ededed" stroke-width="0.8"/>
<line x1="36.50" y1="686.80" x2="117.50" y2="686.80" stroke="#ededed" stroke-width="0.8"/>
<line x1="36.50" y1="739.25" x2="117.50" y2="739.25" stroke="#ededed" stroke-width="0.8"/>
<rect x="38.75" y="650.75" width="13.30" height="88.50" fill="#fff" stroke="#000" stroke-width="1.5"/>
<line x1="45.40" y1="629.25" x2="45.40" y2="670.50" stroke="#000" stroke-width="1.4"/>
<line x1="38.15" y1="629.25" x2="52.65" y2="629.25" stroke="#000" stroke-width="1.4"/>
<line x1="38.15" y1="670.50" x2="52.65" y2="670.50" stroke="#000" stroke-width="1.4"/>
<rect x="53.25" y="734.50" width="15.75" height="4.75" fill="#000" stroke="#000" stroke-width="0.4"/>
<line x1="61.12" y1="731.25" x2="61.12" y2="734.50" stroke="#000" stroke-width="1.4"/>
<line x1="53.41" y1="731.25" x2="68.84" y2="731.25" stroke="#000" stroke-width="1.4"/>
<rect x="70.75" y="736.25" width="12.80" height="3.00" fill="#7f7f7f" stroke="#000" stroke-width="1.5"/>
<line x1="77.15" y1="734.50" x2="77.15" y2="736.50" stroke="#000" stroke-width="1.4"/>
<line x1="70.14" y1="734.50" x2="84.16" y2="734.50" stroke="#000" stroke-width="1.4"/>
<line x1="70.14" y1="736.50" x2="84.16" y2="736.50" stroke="#000" stroke-width="1.4"/>
<rect x="86.50" y="735.25" width="12.75" height="4.00" fill="#a6a6a6" stroke="#000" stroke-width="1.5"/>
<line x1="92.88" y1="733.50" x2="92.88" y2="735.50" stroke="#000" stroke-width="1.4"/>
<line x1="85.89" y1="733.50" x2="99.86" y2="733.50" stroke="#000" stroke-width="1.4"/>
<line x1="85.89" y1="735.50" x2="99.86" y2="735.50" stroke="#000" stroke-width="1.4"/>
<rect x="102.25" y="734.25" width="12.50" height="5.00" fill="#c9c9c9" stroke="#000" stroke-width="1.5"/>
<line x1="108.50" y1="731.25" x2="108.50" y2="735.50" stroke="#000" stroke-width="1.4"/>
<line x1="101.64" y1="731.25" x2="115.36" y2="731.25" stroke="#000" stroke-width="1.4"/>
<line x1="101.64" y1="735.50" x2="115.36" y2="735.50" stroke="#000" stroke-width="1.4"/>
<rect x="36.50" y="625.00" width="81.00" height="119.50" fill="none" stroke="#a8a8a8" stroke-width="1.3"/>
<text transform="translate(77.50 615.20) scale(1.04 1)" font-size="12.6" text-anchor="middle" font-weight="normal" font-style="italic" stroke="#000" stroke-width="0.55">Kit</text>
<text transform="translate(34.80 638.65)" font-size="10.3" text-anchor="end" font-weight="normal" font-style="normal" stroke="#000" stroke-width="0.3">20</text>
<text transform="translate(34.80 689.90)" font-size="10.3" text-anchor="end" font-weight="normal" font-style="normal" stroke="#000" stroke-width="0.3">10</text>
<text transform="translate(34.80 741.65)" font-size="10.3" text-anchor="end" font-weight="normal" font-style="normal" stroke="#000" stroke-width="0.3">0</text>
<rect x="136.25" y="625.00" width="81.25" height="119.50" fill="#fff" stroke="none" stroke-width="1.0"/>
<line x1="153.00" y1="625.00" x2="153.00" y2="744.50" stroke="#f4f4f4" stroke-width="0.6"/>
<line x1="169.05" y1="625.00" x2="169.05" y2="744.50" stroke="#f4f4f4" stroke-width="0.6"/>
<line x1="184.82" y1="625.00" x2="184.82" y2="744.50" stroke="#f4f4f4" stroke-width="0.6"/>
<line x1="200.40" y1="625.00" x2="200.40" y2="744.50" stroke="#f4f4f4" stroke-width="0.6"/>
<line x1="145.00" y1="625.00" x2="145.00" y2="744.50" stroke="#ededed" stroke-width="0.8"/>
<line x1="161.00" y1="625.00" x2="161.00" y2="744.50" stroke="#ededed" stroke-width="0.8"/>
<line x1="177.10" y1="625.00" x2="177.10" y2="744.50" stroke="#ededed" stroke-width="0.8"/>
<line x1="192.55" y1="625.00" x2="192.55" y2="744.50" stroke="#ededed" stroke-width="0.8"/>
<line x1="208.25" y1="625.00" x2="208.25" y2="744.50" stroke="#ededed" stroke-width="0.8"/>
<line x1="136.25" y1="633.00" x2="217.50" y2="633.00" stroke="#ededed" stroke-width="0.8"/>
<line x1="136.25" y1="654.25" x2="217.50" y2="654.25" stroke="#ededed" stroke-width="0.8"/>
<line x1="136.25" y1="675.50" x2="217.50" y2="675.50" stroke="#ededed" stroke-width="0.8"/>
<line x1="136.25" y1="696.75" x2="217.50" y2="696.75" stroke="#ededed" stroke-width="0.8"/>
<line x1="136.25" y1="718.00" x2="217.50" y2="718.00" stroke="#ededed" stroke-width="0.8"/>
<line x1="136.25" y1="739.25" x2="217.50" y2="739.25" stroke="#ededed" stroke-width="0.8"/>
<rect x="138.75" y="643.25" width="12.50" height="96.00" fill="#fff" stroke="#000" stroke-width="1.5"/>
<line x1="145.00" y1="629.50" x2="145.00" y2="655.50" stroke="#000" stroke-width="1.4"/>
<line x1="138.14" y1="629.50" x2="151.86" y2="629.50" stroke="#000" stroke-width="1.4"/>
<line x1="138.14" y1="655.50" x2="151.86" y2="655.50" stroke="#000" stroke-width="1.4"/>
<rect x="153.25" y="717.00" width="15.50" height="22.25" fill="#000" stroke="#000" stroke-width="0.4"/>
<line x1="161.00" y1="710.75" x2="161.00" y2="717.00" stroke="#000" stroke-width="1.4"/>
<line x1="153.41" y1="710.75" x2="168.59" y2="710.75" stroke="#000" stroke-width="1.4"/>
<rect x="170.75" y="732.00" width="12.70" height="7.25" fill="#7f7f7f" stroke="#000" stroke-width="1.5"/>
<line x1="177.10" y1="727.50" x2="177.10" y2="735.00" stroke="#000" stroke-width="1.4"/>
<line x1="170.14" y1="727.50" x2="184.06" y2="727.50" stroke="#000" stroke-width="1.4"/>
<line x1="170.14" y1="735.00" x2="184.06" y2="735.00" stroke="#000" stroke-width="1.4"/>
<rect x="186.25" y="726.50" width="12.60" height="12.75" fill="#a6a6a6" stroke="#000" stroke-width="1.5"/>
<line x1="192.55" y1="722.50" x2="192.55" y2="728.25" stroke="#000" stroke-width="1.4"/>
<line x1="185.64" y1="722.50" x2="199.46" y2="722.50" stroke="#000" stroke-width="1.4"/>
<line x1="185.64" y1="728.25" x2="199.46" y2="728.25" stroke="#000" stroke-width="1.4"/>
<rect x="202.00" y="729.00" width="12.50" height="10.25" fill="#c9c9c9" stroke="#000" stroke-width="1.5"/>
<line x1="208.25" y1="725.50" x2="208.25" y2="731.25" stroke="#000" stroke-width="1.4"/>
<line x1="201.39" y1="725.50" x2="215.11" y2="725.50" stroke="#000" stroke-width="1.4"/>
<line x1="201.39" y1="731.25" x2="215.11" y2="731.25" stroke="#000" stroke-width="1.4"/>
<rect x="136.25" y="625.00" width="81.25" height="119.50" fill="none" stroke="#a8a8a8" stroke-width="1.3"/>
<text transform="translate(177.50 615.20) scale(1.04 1)" font-size="12.6" text-anchor="middle" font-weight="normal" font-style="italic" stroke="#000" stroke-width="0.55">Gata2</text>
<text transform="translate(134.70 637.15)" font-size="10.3" text-anchor="end" font-weight="normal" font-style="normal" stroke="#000" stroke-width="0.3">5</text>
<text transform="translate(134.70 740.40)" font-size="10.3" text-anchor="end" font-weight="normal" font-style="normal" stroke="#000" stroke-width="0.3">0</text>
<rect x="235.75" y="625.00" width="81.25" height="119.50" fill="#fff" stroke="none" stroke-width="1.0"/>
<line x1="253.00" y1="625.00" x2="253.00" y2="744.50" stroke="#f4f4f4" stroke-width="0.6"/>
<line x1="269.06" y1="625.00" x2="269.06" y2="744.50" stroke="#f4f4f4" stroke-width="0.6"/>
<line x1="284.94" y1="625.00" x2="284.94" y2="744.50" stroke="#f4f4f4" stroke-width="0.6"/>
<line x1="300.50" y1="625.00" x2="300.50" y2="744.50" stroke="#f4f4f4" stroke-width="0.6"/>
<line x1="235.75" y1="662.90" x2="317.00" y2="662.90" stroke="#f4f4f4" stroke-width="0.6"/>
<line x1="235.75" y1="713.80" x2="317.00" y2="713.80" stroke="#f4f4f4" stroke-width="0.6"/>
<line x1="245.00" y1="625.00" x2="245.00" y2="744.50" stroke="#ededed" stroke-width="0.8"/>
<line x1="261.00" y1="625.00" x2="261.00" y2="744.50" stroke="#ededed" stroke-width="0.8"/>
<line x1="277.12" y1="625.00" x2="277.12" y2="744.50" stroke="#ededed" stroke-width="0.8"/>
<line x1="292.75" y1="625.00" x2="292.75" y2="744.50" stroke="#ededed" stroke-width="0.8"/>
<line x1="308.25" y1="625.00" x2="308.25" y2="744.50" stroke="#ededed" stroke-width="0.8"/>
<line x1="235.75" y1="637.50" x2="317.00" y2="637.50" stroke="#ededed" stroke-width="0.8"/>
<line x1="235.75" y1="688.40" x2="317.00" y2="688.40" stroke="#ededed" stroke-width="0.8"/>
<line x1="235.75" y1="739.25" x2="317.00" y2="739.25" stroke="#ededed" stroke-width="0.8"/>
<rect x="238.75" y="648.25" width="12.50" height="91.00" fill="#fff" stroke="#000" stroke-width="1.5"/>
<line x1="245.00" y1="629.50" x2="245.00" y2="664.25" stroke="#000" stroke-width="1.4"/>
<line x1="238.14" y1="629.50" x2="251.86" y2="629.50" stroke="#000" stroke-width="1.4"/>
<line x1="238.14" y1="664.25" x2="251.86" y2="664.25" stroke="#000" stroke-width="1.4"/>
<rect x="253.25" y="735.60" width="15.50" height="3.65" fill="#000" stroke="#000" stroke-width="0.4"/>
<line x1="261.00" y1="735.20" x2="261.00" y2="735.60" stroke="#000" stroke-width="1.4"/>
<line x1="253.41" y1="735.20" x2="268.60" y2="735.20" stroke="#000" stroke-width="1.4"/>
<rect x="270.00" y="737.10" width="14.25" height="2.75" fill="#111" stroke="none" stroke-width="1.0"/>
<rect x="285.75" y="737.20" width="14.00" height="2.65" fill="#111" stroke="none" stroke-width="1.0"/>
<rect x="301.80" y="737.55" width="12.90" height="1.70" fill="#c9c9c9" stroke="#000" stroke-width="1.1"/>
<rect x="235.75" y="625.00" width="81.25" height="119.50" fill="none" stroke="#a8a8a8" stroke-width="1.3"/>
<text transform="translate(282.90 615.20) scale(1.04 1)" font-size="12.6" text-anchor="middle" font-weight="normal" font-style="italic" stroke="#000" stroke-width="0.55">Myb</text>
<text transform="translate(233.90 641.65)" font-size="10.3" text-anchor="end" font-weight="normal" font-style="normal" stroke="#000" stroke-width="0.3">40</text>
<text transform="translate(233.90 692.40)" font-size="10.3" text-anchor="end" font-weight="normal" font-style="normal" stroke="#000" stroke-width="0.3">20</text>
<text transform="translate(233.90 742.15)" font-size="10.3" text-anchor="end" font-weight="normal" font-style="normal" stroke="#000" stroke-width="0.3">0</text>
<rect x="339.50" y="625.00" width="81.75" height="119.50" fill="#fff" stroke="none" stroke-width="1.0"/>
<line x1="356.81" y1="625.00" x2="356.81" y2="744.50" stroke="#f4f4f4" stroke-width="0.6"/>
<line x1="372.94" y1="625.00" x2="372.94" y2="744.50" stroke="#f4f4f4" stroke-width="0.6"/>
<line x1="388.75" y1="625.00" x2="388.75" y2="744.50" stroke="#f4f4f4" stroke-width="0.6"/>
<line x1="404.31" y1="625.00" x2="404.31" y2="744.50" stroke="#f4f4f4" stroke-width="0.6"/>
<line x1="339.50" y1="689.40" x2="421.25" y2="689.40" stroke="#f4f4f4" stroke-width="0.6"/>
<line x1="348.75" y1="625.00" x2="348.75" y2="744.50" stroke="#ededed" stroke-width="0.8"/>
<line x1="364.88" y1="625.00" x2="364.88" y2="744.50" stroke="#ededed" stroke-width="0.8"/>
<line x1="381.00" y1="625.00" x2="381.00" y2="744.50" stroke="#ededed" stroke-width="0.8"/>
<line x1="396.50" y1="625.00" x2="396.50" y2="744.50" stroke="#ededed" stroke-width="0.8"/>
<line x1="412.12" y1="625.00" x2="412.12" y2="744.50" stroke="#ededed" stroke-width="0.8"/>
<line x1="339.50" y1="639.50" x2="421.25" y2="639.50" stroke="#ededed" stroke-width="0.8"/>
<line x1="339.50" y1="739.25" x2="421.25" y2="739.25" stroke="#ededed" stroke-width="0.8"/>
<rect x="342.50" y="640.25" width="12.50" height="99.00" fill="#fff" stroke="#000" stroke-width="1.5"/>
<line x1="348.75" y1="629.50" x2="348.75" y2="649.25" stroke="#000" stroke-width="1.4"/>
<line x1="341.89" y1="629.50" x2="355.61" y2="629.50" stroke="#000" stroke-width="1.4"/>
<line x1="341.89" y1="649.25" x2="355.61" y2="649.25" stroke="#000" stroke-width="1.4"/>
<rect x="357.00" y="734.20" width="15.75" height="5.05" fill="#000" stroke="#000" stroke-width="0.4"/>
<line x1="364.88" y1="733.60" x2="364.88" y2="734.20" stroke="#000" stroke-width="1.4"/>
<line x1="357.16" y1="733.60" x2="372.59" y2="733.60" stroke="#000" stroke-width="1.4"/>
<rect x="374.55" y="736.75" width="12.90" height="2.50" fill="#7f7f7f" stroke="#000" stroke-width="1.1"/>
<rect x="390.05" y="736.75" width="12.90" height="2.50" fill="#a6a6a6" stroke="#000" stroke-width="1.1"/>
<rect x="405.00" y="737.30" width="14.25" height="2.55" fill="#111" stroke="none" stroke-width="1.0"/>
<rect x="339.50" y="625.00" width="81.75" height="119.50" fill="none" stroke="#a8a8a8" stroke-width="1.3"/>
<text transform="translate(384.60 615.20) scale(1.04 1)" font-size="12.6" text-anchor="middle" font-weight="normal" font-style="italic" stroke="#000" stroke-width="0.55">Lyl1</text>
<text transform="translate(337.70 643.65)" font-size="10.3" text-anchor="end" font-weight="normal" font-style="normal" stroke="#000" stroke-width="0.3">20</text>
<text transform="translate(337.70 739.90)" font-size="10.3" text-anchor="end" font-weight="normal" font-style="normal" stroke="#000" stroke-width="0.3">0</text>
</g>
</svg>
</body></html>
